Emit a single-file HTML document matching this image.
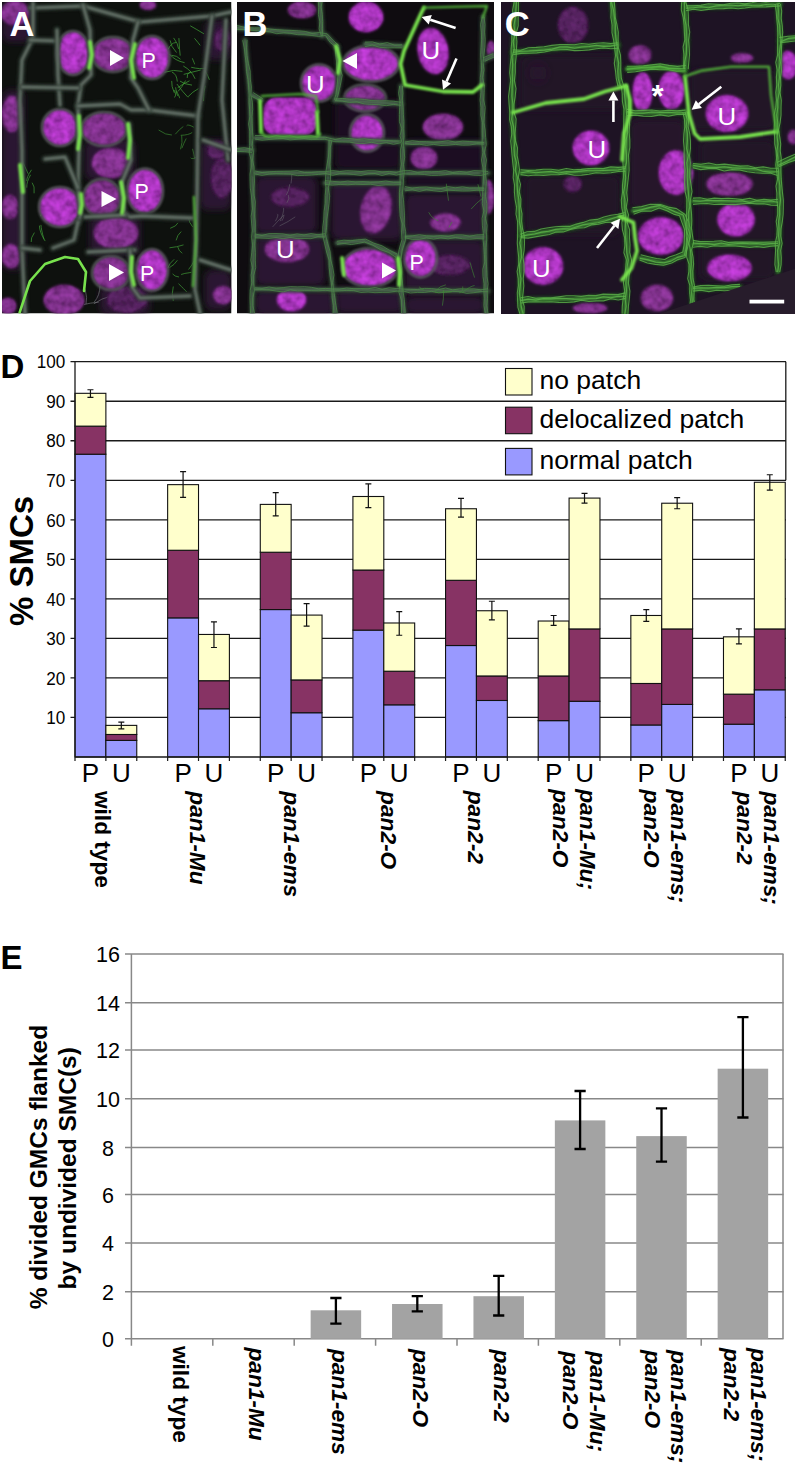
<!DOCTYPE html>
<html><head><meta charset="utf-8"><style>
html,body{margin:0;padding:0;background:#fff;}
body{width:797px;height:1465px;overflow:hidden;}
svg{display:block;font-family:"Liberation Sans", sans-serif;}
</style></head><body>
<svg width="797" height="1465" viewBox="0 0 797 1465">
<rect width="797" height="1465" fill="#fff"/>
<defs>
<filter id="b05" filterUnits="userSpaceOnUse" x="0" y="0" width="797" height="320"><feGaussianBlur stdDeviation="0.5"/></filter>
<filter id="b1" filterUnits="userSpaceOnUse" x="0" y="0" width="797" height="320"><feGaussianBlur stdDeviation="1"/></filter>
<filter id="b15" filterUnits="userSpaceOnUse" x="0" y="0" width="797" height="320"><feGaussianBlur stdDeviation="1.6"/></filter>
<filter id="b3" filterUnits="userSpaceOnUse" x="0" y="0" width="797" height="320"><feGaussianBlur stdDeviation="3"/></filter>
<filter id="b6" filterUnits="userSpaceOnUse" x="0" y="0" width="797" height="320"><feGaussianBlur stdDeviation="6"/></filter>
<filter id="tex" filterUnits="userSpaceOnUse" x="0" y="0" width="797" height="320">
<feTurbulence type="fractalNoise" baseFrequency="0.13" numOctaves="2" seed="7" result="n"/>
<feColorMatrix in="n" type="matrix" values="1 0 0 0 0  1 0 0 0 0  1 0 0 0 0  0 0 0 0 1" result="g"/>
<feGaussianBlur in="SourceGraphic" stdDeviation="1.6" result="bl"/>
<feComposite in="bl" in2="g" operator="arithmetic" k1="1.3" k2="0.35" k3="0" k4="0"/>
</filter>
<clipPath id="cA"><rect x="2" y="2" width="229.5" height="311.5"/></clipPath>
<clipPath id="cB"><rect x="237" y="2" width="257" height="311.5"/></clipPath>
<clipPath id="cC"><rect x="501" y="2" width="294" height="312"/></clipPath>
</defs>
<g clip-path="url(#cA)">
<rect x="2" y="2" width="229.5" height="311.5" fill="#0e110e"/>
<rect x="2" y="2" width="30" height="40" rx="8" fill="#2a1230" opacity="1" filter="url(#b3)"/>
<rect x="2" y="90" width="22" height="180" rx="8" fill="#2a1230" opacity="1" filter="url(#b3)"/>
<rect x="85" y="140" width="50" height="40" rx="8" fill="#2a1230" opacity="1" filter="url(#b3)"/>
<rect x="90" y="215" width="50" height="40" rx="8" fill="#2a1230" opacity="1" filter="url(#b3)"/>
<rect x="100" y="285" width="50" height="30" rx="8" fill="#2a1230" opacity="1" filter="url(#b3)"/>
<rect x="200" y="140" width="31" height="70" rx="8" fill="#2a1230" opacity="1" filter="url(#b3)"/>
<rect x="205" y="270" width="26" height="40" rx="8" fill="#2a1230" opacity="1" filter="url(#b3)"/>
<rect x="205" y="20" width="26" height="40" rx="8" fill="#2a1230" opacity="1" filter="url(#b3)"/>
<g filter="url(#b05)"><path d="M191.0,71.3 Q186.1,73.9 187.2,78.0" stroke="#3f9a36" stroke-width="1.0" fill="none" opacity="0.75"/><path d="M185.6,80.5 Q182.2,86.9 178.1,91.4" stroke="#3f9a36" stroke-width="1.0" fill="none" opacity="0.75"/><path d="M169.9,54.4 Q174.6,60.5 184.6,62.7" stroke="#3f9a36" stroke-width="1.0" fill="none" opacity="0.75"/><path d="M172.0,72.1 Q176.7,73.9 177.3,81.6" stroke="#3f9a36" stroke-width="1.0" fill="none" opacity="0.75"/><path d="M174.3,90.2 Q177.1,96.4 174.1,97.3" stroke="#3f9a36" stroke-width="1.0" fill="none" opacity="0.75"/><path d="M171.6,55.3 Q176.8,55.3 180.5,59.3" stroke="#3f9a36" stroke-width="1.0" fill="none" opacity="0.75"/><path d="M190.3,25.8 Q196.5,29.3 203.9,33.8" stroke="#3f9a36" stroke-width="1.0" fill="none" opacity="0.75"/><path d="M192.3,58.3 Q194.8,64.1 194.6,64.3" stroke="#3f9a36" stroke-width="1.0" fill="none" opacity="0.75"/><path d="M204.9,70.4 Q208.3,76.1 209.4,79.8" stroke="#3f9a36" stroke-width="1.0" fill="none" opacity="0.75"/><path d="M173.6,37.9 Q178.0,43.4 178.6,48.9" stroke="#3f9a36" stroke-width="1.0" fill="none" opacity="0.75"/><path d="M171.7,80.9 Q171.3,86.4 174.3,92.8" stroke="#3f9a36" stroke-width="1.0" fill="none" opacity="0.75"/><path d="M180.0,81.1 Q184.0,84.3 192.0,85.1" stroke="#3f9a36" stroke-width="1.0" fill="none" opacity="0.75"/><path d="M170.1,40.4 Q170.6,46.2 176.5,52.5" stroke="#3f9a36" stroke-width="1.0" fill="none" opacity="0.75"/><path d="M178.9,38.1 Q179.4,49.6 180.2,55.6" stroke="#3f9a36" stroke-width="1.0" fill="none" opacity="0.75"/><path d="M176.3,90.6 Q179.5,96.9 179.7,98.2" stroke="#3f9a36" stroke-width="1.0" fill="none" opacity="0.75"/><path d="M176.0,42.5 Q170.7,42.9 168.4,49.2" stroke="#3f9a36" stroke-width="1.0" fill="none" opacity="0.75"/><path d="M182.4,71.4 Q173.5,69.0 164.5,72.3" stroke="#3f9a36" stroke-width="1.0" fill="none" opacity="0.75"/><path d="M189.5,80.8 Q182.0,84.4 177.7,87.7" stroke="#3f9a36" stroke-width="1.0" fill="none" opacity="0.75"/><path d="M183.3,66.0 Q191.6,70.4 195.1,78.8" stroke="#3f9a36" stroke-width="1.0" fill="none" opacity="0.75"/><path d="M176.9,84.0 Q182.6,91.8 188.0,97.3" stroke="#3f9a36" stroke-width="1.0" fill="none" opacity="0.75"/><path d="M194.5,38.3 Q198.5,43.0 200.2,45.4" stroke="#3f9a36" stroke-width="1.0" fill="none" opacity="0.75"/><path d="M175.6,87.3 Q176.4,94.5 177.8,95.9" stroke="#3f9a36" stroke-width="1.0" fill="none" opacity="0.75"/><path d="M200.7,70.0 Q193.7,71.7 183.7,74.4" stroke="#3f9a36" stroke-width="1.0" fill="none" opacity="0.75"/><path d="M198.3,88.7 Q192.3,91.9 188.1,96.7" stroke="#3f9a36" stroke-width="1.0" fill="none" opacity="0.75"/><path d="M191.2,67.3 Q200.9,69.5 205.7,68.1" stroke="#3f9a36" stroke-width="1.0" fill="none" opacity="0.75"/><path d="M205.2,85.7 Q203.6,91.0 203.5,101.1" stroke="#3f9a36" stroke-width="1.0" fill="none" opacity="0.75"/></g>
<g filter="url(#b05)"><path d="M183.5,244.9 Q176.7,247.1 169.5,247.8" stroke="#3f9a36" stroke-width="1.0" fill="none" opacity="0.7"/><path d="M174.2,259.3 Q169.5,263.1 167.8,268.0" stroke="#3f9a36" stroke-width="1.0" fill="none" opacity="0.7"/><path d="M172.6,273.9 Q174.6,276.6 179.0,277.0" stroke="#3f9a36" stroke-width="1.0" fill="none" opacity="0.7"/><path d="M191.3,272.4 Q183.4,273.4 181.1,274.5" stroke="#3f9a36" stroke-width="1.0" fill="none" opacity="0.7"/><path d="M181.2,231.6 Q177.1,235.0 176.1,240.4" stroke="#3f9a36" stroke-width="1.0" fill="none" opacity="0.7"/><path d="M188.7,218.4 Q188.9,222.2 192.6,226.8" stroke="#3f9a36" stroke-width="1.0" fill="none" opacity="0.7"/><path d="M173.3,286.5 Q171.3,293.5 173.3,300.9" stroke="#3f9a36" stroke-width="1.0" fill="none" opacity="0.7"/><path d="M178.5,283.7 Q184.7,289.7 186.6,291.8" stroke="#3f9a36" stroke-width="1.0" fill="none" opacity="0.7"/><path d="M177.4,260.3 Q174.5,264.9 169.5,267.6" stroke="#3f9a36" stroke-width="1.0" fill="none" opacity="0.7"/><path d="M194.1,260.9 Q192.7,264.1 188.6,269.5" stroke="#3f9a36" stroke-width="1.0" fill="none" opacity="0.7"/><path d="M177.8,247.0 Q178.4,250.4 182.2,253.3" stroke="#3f9a36" stroke-width="1.0" fill="none" opacity="0.7"/><path d="M177.9,222.9 Q176.7,226.2 170.2,228.3" stroke="#3f9a36" stroke-width="1.0" fill="none" opacity="0.7"/></g>
<g filter="url(#b05)"><path d="M34.4,232.6 Q30.5,238.2 31.2,242.0" stroke="#3f9a36" stroke-width="1.0" fill="none" opacity="0.7"/><path d="M43.0,205.5 Q42.6,209.4 40.7,216.2" stroke="#3f9a36" stroke-width="1.0" fill="none" opacity="0.7"/><path d="M32.1,182.7 Q35.0,186.0 34.1,193.3" stroke="#3f9a36" stroke-width="1.0" fill="none" opacity="0.7"/><path d="M31.5,169.8 Q26.4,177.5 26.7,181.1" stroke="#3f9a36" stroke-width="1.0" fill="none" opacity="0.7"/><path d="M40.9,224.9 Q41.3,229.9 44.0,239.4" stroke="#3f9a36" stroke-width="1.0" fill="none" opacity="0.7"/><path d="M39.4,225.6 Q39.5,232.2 45.2,241.1" stroke="#3f9a36" stroke-width="1.0" fill="none" opacity="0.7"/><path d="M22.4,160.4 Q24.0,165.2 28.2,173.8" stroke="#3f9a36" stroke-width="1.0" fill="none" opacity="0.7"/><path d="M30.6,174.8 Q26.3,182.3 26.8,187.6" stroke="#3f9a36" stroke-width="1.0" fill="none" opacity="0.7"/></g>
<g filter="url(#b05)"><path d="M181.7,135.5 Q182.9,142.5 180.5,149.3" stroke="#3f9a36" stroke-width="1.0" fill="none" opacity="0.6"/><path d="M186.2,138.5 Q183.6,143.5 181.9,148.2" stroke="#3f9a36" stroke-width="1.0" fill="none" opacity="0.6"/><path d="M192.2,132.5 Q188.6,135.1 180.7,135.3" stroke="#3f9a36" stroke-width="1.0" fill="none" opacity="0.6"/><path d="M192.5,148.8 Q194.3,155.6 194.9,159.4" stroke="#3f9a36" stroke-width="1.0" fill="none" opacity="0.6"/><path d="M186.6,125.8 Q187.7,123.8 193.8,127.2" stroke="#3f9a36" stroke-width="1.0" fill="none" opacity="0.6"/><path d="M158.6,130.0 Q165.9,135.3 171.9,135.0" stroke="#3f9a36" stroke-width="1.0" fill="none" opacity="0.6"/><path d="M196.9,156.8 Q192.2,159.9 190.7,157.8" stroke="#3f9a36" stroke-width="1.0" fill="none" opacity="0.6"/><path d="M183.3,126.5 Q179.5,129.2 175.3,134.2" stroke="#3f9a36" stroke-width="1.0" fill="none" opacity="0.6"/></g>
<g filter="url(#b05)"><path d="M100.0,285.6 Q100.0,295.4 94.2,302.1" stroke="#7a7a80" stroke-width="1.0" fill="none" opacity="0.6"/><path d="M126.6,292.7 Q132.3,300.6 136.7,306.5" stroke="#7a7a80" stroke-width="1.0" fill="none" opacity="0.6"/><path d="M85.2,289.4 Q87.6,298.3 86.0,304.2" stroke="#7a7a80" stroke-width="1.0" fill="none" opacity="0.6"/><path d="M110.1,296.3 Q101.9,298.2 93.9,303.8" stroke="#7a7a80" stroke-width="1.0" fill="none" opacity="0.6"/><path d="M114.4,299.3 Q115.5,303.9 118.1,307.2" stroke="#7a7a80" stroke-width="1.0" fill="none" opacity="0.6"/><path d="M98.7,302.2 Q89.9,302.9 84.0,304.5" stroke="#7a7a80" stroke-width="1.0" fill="none" opacity="0.6"/></g>
<ellipse cx="15" cy="13" rx="14" ry="12" fill="#82308e" filter="url(#tex)"/>
<ellipse cx="148" cy="5" rx="8" ry="5" fill="#82308e" filter="url(#tex)"/>
<ellipse cx="12" cy="114" rx="10" ry="18" fill="#82308e" filter="url(#tex)"/>
<ellipse cx="10" cy="207" rx="8" ry="12" fill="#82308e" filter="url(#tex)"/>
<ellipse cx="11" cy="256" rx="9" ry="12" fill="#82308e" filter="url(#tex)"/>
<ellipse cx="8" cy="306" rx="8" ry="8" fill="#82308e" filter="url(#tex)"/>
<ellipse cx="222" cy="178" rx="11" ry="20" fill="#55205f" filter="url(#tex)"/>
<ellipse cx="222" cy="40" rx="8" ry="12" fill="#55205f" filter="url(#tex)"/>
<ellipse cx="217" cy="150" rx="10" ry="9" fill="#55205f" filter="url(#tex)"/>
<ellipse cx="127" cy="300" rx="20" ry="13" fill="#55205f" filter="url(#tex)"/>
<ellipse cx="111" cy="163" rx="19" ry="15" fill="#82308e" filter="url(#tex)"/>
<ellipse cx="116" cy="233" rx="22" ry="16" fill="#82308e" filter="url(#tex)"/>
<ellipse cx="104" cy="129" rx="22" ry="16" fill="#82308e" filter="url(#tex)"/><ellipse cx="104" cy="129" rx="23" ry="17" fill="none" stroke="#56645a" stroke-width="2.5" opacity="0.8" filter="url(#b1)"/>
<ellipse cx="113" cy="54.5" rx="20" ry="16.5" fill="#82308e" filter="url(#tex)"/><ellipse cx="113" cy="54.5" rx="21" ry="17.5" fill="none" stroke="#56645a" stroke-width="2.5" opacity="0.8" filter="url(#b1)"/>
<ellipse cx="102" cy="198" rx="18" ry="18" fill="#82308e" filter="url(#tex)"/><ellipse cx="102" cy="198" rx="19" ry="19" fill="none" stroke="#56645a" stroke-width="2.5" opacity="0.8" filter="url(#b1)"/>
<ellipse cx="111" cy="273" rx="18" ry="16" fill="#82308e" filter="url(#tex)"/><ellipse cx="111" cy="273" rx="19" ry="17" fill="none" stroke="#56645a" stroke-width="2.5" opacity="0.8" filter="url(#b1)"/>
<ellipse cx="64" cy="300" rx="20" ry="15" fill="#82308e" filter="url(#tex)"/>
<ellipse cx="223" cy="295" rx="10" ry="9" fill="#82308e" filter="url(#tex)"/>
<ellipse cx="73" cy="53" rx="15.5" ry="21" fill="#ab36bf" filter="url(#tex)"/><ellipse cx="73" cy="53" rx="16.5" ry="22" fill="none" stroke="#56645a" stroke-width="2.5" opacity="0.8" filter="url(#b1)"/>
<ellipse cx="152" cy="57.5" rx="16.5" ry="20.5" fill="#ab36bf" filter="url(#tex)"/><ellipse cx="152" cy="57.5" rx="17.5" ry="21.5" fill="none" stroke="#56645a" stroke-width="2.5" opacity="0.8" filter="url(#b1)"/>
<ellipse cx="60" cy="127.5" rx="17" ry="17.5" fill="#ab36bf" filter="url(#tex)"/><ellipse cx="60" cy="127.5" rx="18" ry="18.5" fill="none" stroke="#56645a" stroke-width="2.5" opacity="0.8" filter="url(#b1)"/>
<ellipse cx="60" cy="207" rx="20" ry="19" fill="#ab36bf" filter="url(#tex)"/><ellipse cx="60" cy="207" rx="21" ry="20" fill="none" stroke="#56645a" stroke-width="2.5" opacity="0.8" filter="url(#b1)"/>
<ellipse cx="145" cy="191" rx="17" ry="21.5" fill="#ab36bf" filter="url(#tex)"/><ellipse cx="145" cy="191" rx="18" ry="22.5" fill="none" stroke="#56645a" stroke-width="2.5" opacity="0.8" filter="url(#b1)"/>
<ellipse cx="152" cy="270" rx="15" ry="20" fill="#ab36bf" filter="url(#tex)"/><ellipse cx="152" cy="270" rx="16" ry="21" fill="none" stroke="#56645a" stroke-width="2.5" opacity="0.8" filter="url(#b1)"/>
<path d="M30,8 L83,6 L140,22 L212,16 L231,12" stroke="#343f38" stroke-width="6.5" fill="none" stroke-linejoin="round" stroke-linecap="round" opacity="0.9" filter="url(#b15)"/><path d="M30,8 L83,6 L140,22 L212,16 L231,12" stroke="#6e7b72" stroke-width="2.4" fill="none" stroke-linejoin="round" stroke-linecap="round" opacity="0.9" filter="url(#b1)"/>
<path d="M33,3 L33,38 L22,60 L20,100 L22,150 L22,248 L25,313" stroke="#343f38" stroke-width="6.5" fill="none" stroke-linejoin="round" stroke-linecap="round" opacity="0.9" filter="url(#b15)"/><path d="M33,3 L33,38 L22,60 L20,100 L22,150 L22,248 L25,313" stroke="#6e7b72" stroke-width="2.4" fill="none" stroke-linejoin="round" stroke-linecap="round" opacity="0.9" filter="url(#b1)"/>
<path d="M30,40 L57,41" stroke="#343f38" stroke-width="6.5" fill="none" stroke-linejoin="round" stroke-linecap="round" opacity="0.9" filter="url(#b15)"/><path d="M30,40 L57,41" stroke="#6e7b72" stroke-width="2.4" fill="none" stroke-linejoin="round" stroke-linecap="round" opacity="0.9" filter="url(#b1)"/>
<path d="M57,30 L58,75 L60,105" stroke="#343f38" stroke-width="6.5" fill="none" stroke-linejoin="round" stroke-linecap="round" opacity="0.9" filter="url(#b15)"/><path d="M57,30 L58,75 L60,105" stroke="#6e7b72" stroke-width="2.4" fill="none" stroke-linejoin="round" stroke-linecap="round" opacity="0.9" filter="url(#b1)"/>
<path d="M83,5 L90,30 L91,75 L81,85 L78,105 L79,150 L78,188 L81,215 L78,222" stroke="#343f38" stroke-width="6.5" fill="none" stroke-linejoin="round" stroke-linecap="round" opacity="0.9" filter="url(#b15)"/><path d="M83,5 L90,30 L91,75 L81,85 L78,105 L79,150 L78,188 L81,215 L78,222" stroke="#6e7b72" stroke-width="2.4" fill="none" stroke-linejoin="round" stroke-linecap="round" opacity="0.9" filter="url(#b1)"/>
<path d="M22,87 L78,88" stroke="#343f38" stroke-width="6.5" fill="none" stroke-linejoin="round" stroke-linecap="round" opacity="0.9" filter="url(#b15)"/><path d="M22,87 L78,88" stroke="#6e7b72" stroke-width="2.4" fill="none" stroke-linejoin="round" stroke-linecap="round" opacity="0.9" filter="url(#b1)"/>
<path d="M78,106 L120,104 L131,110 L149,110 L198,116" stroke="#343f38" stroke-width="6.5" fill="none" stroke-linejoin="round" stroke-linecap="round" opacity="0.9" filter="url(#b15)"/><path d="M78,106 L120,104 L131,110 L149,110 L198,116" stroke="#6e7b72" stroke-width="2.4" fill="none" stroke-linejoin="round" stroke-linecap="round" opacity="0.9" filter="url(#b1)"/>
<path d="M138,22 L133,40 L131,78 L138,88 L149,110" stroke="#343f38" stroke-width="6.5" fill="none" stroke-linejoin="round" stroke-linecap="round" opacity="0.9" filter="url(#b15)"/><path d="M138,22 L133,40 L131,78 L138,88 L149,110" stroke="#6e7b72" stroke-width="2.4" fill="none" stroke-linejoin="round" stroke-linecap="round" opacity="0.9" filter="url(#b1)"/>
<path d="M212,16 L204,78 L198,116 L197,200 L195,290 L200,313" stroke="#343f38" stroke-width="6.5" fill="none" stroke-linejoin="round" stroke-linecap="round" opacity="0.9" filter="url(#b15)"/><path d="M212,16 L204,78 L198,116 L197,200 L195,290 L200,313" stroke="#6e7b72" stroke-width="2.4" fill="none" stroke-linejoin="round" stroke-linecap="round" opacity="0.9" filter="url(#b1)"/>
<path d="M129,124 L131,160 L122,182 L124,213 L130,217 L141,216 L192,218" stroke="#343f38" stroke-width="6.5" fill="none" stroke-linejoin="round" stroke-linecap="round" opacity="0.9" filter="url(#b15)"/><path d="M129,124 L131,160 L122,182 L124,213 L130,217 L141,216 L192,218" stroke="#6e7b72" stroke-width="2.4" fill="none" stroke-linejoin="round" stroke-linecap="round" opacity="0.9" filter="url(#b1)"/>
<path d="M45,159 L65,157 L78,188" stroke="#343f38" stroke-width="6.5" fill="none" stroke-linejoin="round" stroke-linecap="round" opacity="0.9" filter="url(#b15)"/><path d="M45,159 L65,157 L78,188" stroke="#6e7b72" stroke-width="2.4" fill="none" stroke-linejoin="round" stroke-linecap="round" opacity="0.9" filter="url(#b1)"/>
<path d="M53,248 L74,240 L78,222" stroke="#343f38" stroke-width="6.5" fill="none" stroke-linejoin="round" stroke-linecap="round" opacity="0.9" filter="url(#b15)"/><path d="M53,248 L74,240 L78,222" stroke="#6e7b72" stroke-width="2.4" fill="none" stroke-linejoin="round" stroke-linecap="round" opacity="0.9" filter="url(#b1)"/>
<path d="M85,217 L125,215" stroke="#343f38" stroke-width="6.5" fill="none" stroke-linejoin="round" stroke-linecap="round" opacity="0.9" filter="url(#b15)"/><path d="M85,217 L125,215" stroke="#6e7b72" stroke-width="2.4" fill="none" stroke-linejoin="round" stroke-linecap="round" opacity="0.9" filter="url(#b1)"/>
<path d="M88,252 L130,250 L135,250" stroke="#343f38" stroke-width="6.5" fill="none" stroke-linejoin="round" stroke-linecap="round" opacity="0.9" filter="url(#b15)"/><path d="M88,252 L130,250 L135,250" stroke="#6e7b72" stroke-width="2.4" fill="none" stroke-linejoin="round" stroke-linecap="round" opacity="0.9" filter="url(#b1)"/>
<path d="M130,250 L132,287 L140,298 L190,296" stroke="#343f38" stroke-width="6.5" fill="none" stroke-linejoin="round" stroke-linecap="round" opacity="0.9" filter="url(#b15)"/><path d="M130,250 L132,287 L140,298 L190,296" stroke="#6e7b72" stroke-width="2.4" fill="none" stroke-linejoin="round" stroke-linecap="round" opacity="0.9" filter="url(#b1)"/>
<path d="M226,20 L222,100 L228,160" stroke="#343f38" stroke-width="6.5" fill="none" stroke-linejoin="round" stroke-linecap="round" opacity="0.9" filter="url(#b15)"/><path d="M226,20 L222,100 L228,160" stroke="#6e7b72" stroke-width="2.4" fill="none" stroke-linejoin="round" stroke-linecap="round" opacity="0.9" filter="url(#b1)"/>
<path d="M40,250 L22,248" stroke="#343f38" stroke-width="6.5" fill="none" stroke-linejoin="round" stroke-linecap="round" opacity="0.9" filter="url(#b15)"/><path d="M40,250 L22,248" stroke="#6e7b72" stroke-width="2.4" fill="none" stroke-linejoin="round" stroke-linecap="round" opacity="0.9" filter="url(#b1)"/>
<path d="M203,140 L231,150" stroke="#343f38" stroke-width="6.5" fill="none" stroke-linejoin="round" stroke-linecap="round" opacity="0.9" filter="url(#b15)"/><path d="M203,140 L231,150" stroke="#6e7b72" stroke-width="2.4" fill="none" stroke-linejoin="round" stroke-linecap="round" opacity="0.9" filter="url(#b1)"/>
<path d="M200,260 L231,270" stroke="#343f38" stroke-width="6.5" fill="none" stroke-linejoin="round" stroke-linecap="round" opacity="0.9" filter="url(#b15)"/><path d="M200,260 L231,270" stroke="#6e7b72" stroke-width="2.4" fill="none" stroke-linejoin="round" stroke-linecap="round" opacity="0.9" filter="url(#b1)"/>
<path d="M135,44 L131,60 L134,78" stroke="#78e24e" stroke-width="3.8" fill="none" stroke-linejoin="round" stroke-linecap="round" opacity="1" filter="url(#b1)"/>
<path d="M90,42 L92,55 L89,68" stroke="#78e24e" stroke-width="3.8" fill="none" stroke-linejoin="round" stroke-linecap="round" opacity="1" filter="url(#b1)"/>
<path d="M79,116 L80,135 L78,149" stroke="#78e24e" stroke-width="3.8" fill="none" stroke-linejoin="round" stroke-linecap="round" opacity="1" filter="url(#b1)"/>
<path d="M128,124 L130,140 L128,158" stroke="#78e24e" stroke-width="3.8" fill="none" stroke-linejoin="round" stroke-linecap="round" opacity="1" filter="url(#b1)"/>
<path d="M81,194 L82,205 L80,213" stroke="#78e24e" stroke-width="3.8" fill="none" stroke-linejoin="round" stroke-linecap="round" opacity="1" filter="url(#b1)"/>
<path d="M121,182 L124,198 L122,213" stroke="#78e24e" stroke-width="3.8" fill="none" stroke-linejoin="round" stroke-linecap="round" opacity="1" filter="url(#b1)"/>
<path d="M132,257 L131,272 L134,285" stroke="#78e24e" stroke-width="3.8" fill="none" stroke-linejoin="round" stroke-linecap="round" opacity="1" filter="url(#b1)"/>
<path d="M20,165 L23,192" stroke="#78e24e" stroke-width="3.8" fill="none" stroke-linejoin="round" stroke-linecap="round" opacity="1" filter="url(#b1)"/>
<path d="M194,197 L196,240 L193,286" stroke="#52b23a" stroke-width="2.6" fill="none" stroke-linejoin="round" stroke-linecap="round" opacity="0.9" filter="url(#b1)"/>
<path d="M19.6,312.6 L30,281 L45,264 L65,257 L78,259 L86,272 L84,291" stroke="#78e24e" stroke-width="2.6" fill="none" stroke-linejoin="round" stroke-linecap="round" opacity="1" filter="url(#b05)"/>
<polygon points="124,58 110,50.0 110,66.0" fill="#fff"/>
<polygon points="116.5,199 101.5,191.0 101.5,207.0" fill="#fff"/>
<polygon points="124,272.5 109,264.0 109,281.0" fill="#fff"/>
<text x="141.5" y="67.5" font-size="21.5" fill="#fff">P</text>
<text x="134.5" y="198.6" font-size="21.5" fill="#fff">P</text>
<text x="140" y="281" font-size="21.5" fill="#fff">P</text>
<text x="9.4" y="35.9" font-size="34.5" font-weight="bold" fill="#fff">A</text>
</g>
<g clip-path="url(#cB)">
<rect x="237" y="2" width="257" height="311.5" fill="#0f0c10"/>
<rect x="255" y="176" width="62" height="58" rx="8" fill="#2a1230" opacity="1" filter="url(#b3)"/>
<rect x="331" y="180" width="72" height="60" rx="8" fill="#2a1230" opacity="1" filter="url(#b3)"/>
<rect x="405" y="193" width="80" height="46" rx="8" fill="#2a1230" opacity="1" filter="url(#b3)"/>
<rect x="405" y="240" width="80" height="55" rx="8" fill="#2a1230" opacity="1" filter="url(#b3)"/>
<rect x="255" y="236" width="70" height="50" rx="8" fill="#2a1230" opacity="1" filter="url(#b3)"/>
<rect x="335" y="288" width="70" height="25" rx="8" fill="#2a1230" opacity="1" filter="url(#b3)"/>
<rect x="405" y="296" width="80" height="18" rx="8" fill="#2a1230" opacity="1" filter="url(#b3)"/>
<rect x="255" y="290" width="80" height="25" rx="8" fill="#2a1230" opacity="1" filter="url(#b3)"/>
<rect x="405" y="140" width="80" height="50" rx="8" fill="#1e0e22" opacity="1" filter="url(#b3)"/>
<rect x="335" y="100" width="66" height="70" rx="8" fill="#1e0e22" opacity="1" filter="url(#b3)"/>
<ellipse cx="290" cy="197" rx="19" ry="10" fill="#55205f" filter="url(#tex)"/>
<ellipse cx="445.5" cy="222.5" rx="15" ry="9" fill="#82308e" filter="url(#tex)"/>
<ellipse cx="488" cy="197" rx="6" ry="17" fill="#82308e" filter="url(#tex)"/>
<ellipse cx="491" cy="50" rx="4" ry="9" fill="#82308e" filter="url(#tex)"/>
<ellipse cx="302" cy="10" rx="14" ry="8" fill="#82308e" filter="url(#tex)"/>
<ellipse cx="365" cy="98" rx="20" ry="12.5" fill="#82308e" filter="url(#tex)"/><ellipse cx="365" cy="98" rx="21" ry="13.5" fill="none" stroke="#56645a" stroke-width="2.5" opacity="0.8" filter="url(#b1)"/>
<ellipse cx="443" cy="127" rx="20" ry="13" fill="#82308e" filter="url(#tex)"/>
<ellipse cx="424" cy="158" rx="13" ry="11" fill="#82308e" filter="url(#tex)"/>
<ellipse cx="376" cy="209.5" rx="15" ry="24" fill="#82308e" filter="url(#tex)" transform="rotate(12 376 209.5)"/>
<ellipse cx="287" cy="249" rx="22" ry="13" fill="#82308e" filter="url(#tex)"/>
<ellipse cx="450" cy="265" rx="20" ry="10" fill="#55205f" filter="url(#tex)"/>
<ellipse cx="366" cy="17" rx="17" ry="15" fill="#ab36bf" filter="url(#tex)"/>
<ellipse cx="371" cy="63.5" rx="27" ry="17" fill="#ab36bf" filter="url(#tex)"/><ellipse cx="371" cy="63.5" rx="28" ry="18" fill="none" stroke="#56645a" stroke-width="2.5" opacity="0.8" filter="url(#b1)"/>
<ellipse cx="319" cy="83" rx="17" ry="17.5" fill="#ab36bf" filter="url(#tex)"/><ellipse cx="319" cy="83" rx="18" ry="18.5" fill="none" stroke="#56645a" stroke-width="2.5" opacity="0.8" filter="url(#b1)"/>
<ellipse cx="433" cy="51" rx="15" ry="23" fill="#ab36bf" filter="url(#tex)" transform="rotate(-10 433 51)"/>
<ellipse cx="367" cy="133" rx="16" ry="17.5" fill="#ab36bf" filter="url(#tex)"/><ellipse cx="367" cy="133" rx="17" ry="18.5" fill="none" stroke="#56645a" stroke-width="2.5" opacity="0.8" filter="url(#b1)"/>
<ellipse cx="370" cy="267.5" rx="27" ry="18.5" fill="#ab36bf" filter="url(#tex)"/><ellipse cx="370" cy="267.5" rx="28" ry="19.5" fill="none" stroke="#56645a" stroke-width="2.5" opacity="0.8" filter="url(#b1)"/>
<ellipse cx="420.5" cy="258" rx="15.5" ry="18.5" fill="#ab36bf" filter="url(#tex)"/><ellipse cx="420.5" cy="258" rx="16.5" ry="19.5" fill="none" stroke="#56645a" stroke-width="2.5" opacity="0.8" filter="url(#b1)"/>
<ellipse cx="291.5" cy="300" rx="14.5" ry="11" fill="#ab36bf" filter="url(#tex)"/>
<rect x="264" y="98" width="52" height="37" rx="12" fill="#ab36bf" filter="url(#tex)"/>
<path d="M237,28 L263,30 L326,35 L337,47" stroke="#2a3e2e" stroke-width="6.5" fill="none" stroke-linejoin="round" stroke-linecap="round" opacity="0.9" filter="url(#b15)"/><path d="M237,28 L263,30 L326,35 L337,47" stroke="#587a5c" stroke-width="2.4" fill="none" stroke-linejoin="round" stroke-linecap="round" opacity="0.9" filter="url(#b1)"/>
<path d="M245,40 L250,95 L252,160 L254,230 L252,313" stroke="#2a3e2e" stroke-width="6.5" fill="none" stroke-linejoin="round" stroke-linecap="round" opacity="0.9" filter="url(#b15)"/><path d="M245,40 L250,95 L252,160 L254,230 L252,313" stroke="#587a5c" stroke-width="2.4" fill="none" stroke-linejoin="round" stroke-linecap="round" opacity="0.9" filter="url(#b1)"/>
<path d="M252,95 L262,100" stroke="#2a3e2e" stroke-width="6.5" fill="none" stroke-linejoin="round" stroke-linecap="round" opacity="0.9" filter="url(#b15)"/><path d="M252,95 L262,100" stroke="#587a5c" stroke-width="2.4" fill="none" stroke-linejoin="round" stroke-linecap="round" opacity="0.9" filter="url(#b1)"/>
<path d="M320,0 L322,36" stroke="#2a3e2e" stroke-width="6.5" fill="none" stroke-linejoin="round" stroke-linecap="round" opacity="0.9" filter="url(#b15)"/><path d="M320,0 L322,36" stroke="#587a5c" stroke-width="2.4" fill="none" stroke-linejoin="round" stroke-linecap="round" opacity="0.9" filter="url(#b1)"/>
<path d="M337,47 L340,75 L337,95 L335,100" stroke="#2a3e2e" stroke-width="6.5" fill="none" stroke-linejoin="round" stroke-linecap="round" opacity="0.9" filter="url(#b15)"/><path d="M337,47 L340,75 L337,95 L335,100" stroke="#587a5c" stroke-width="2.4" fill="none" stroke-linejoin="round" stroke-linecap="round" opacity="0.9" filter="url(#b1)"/>
<path d="M255,138 L325,138 L335,140 L401,142" stroke="#2a3e2e" stroke-width="6.5" fill="none" stroke-linejoin="round" stroke-linecap="round" opacity="0.9" filter="url(#b15)"/><path d="M255,138 L325,138 L335,140 L401,142" stroke="#587a5c" stroke-width="2.4" fill="none" stroke-linejoin="round" stroke-linecap="round" opacity="0.9" filter="url(#b1)"/>
<path d="M330,140 L328,180 L325,235 L330,260 L335,313" stroke="#2a3e2e" stroke-width="6.5" fill="none" stroke-linejoin="round" stroke-linecap="round" opacity="0.9" filter="url(#b15)"/><path d="M330,140 L328,180 L325,235 L330,260 L335,313" stroke="#587a5c" stroke-width="2.4" fill="none" stroke-linejoin="round" stroke-linecap="round" opacity="0.9" filter="url(#b1)"/>
<path d="M255,173 L488,173" stroke="#2a3e2e" stroke-width="6.5" fill="none" stroke-linejoin="round" stroke-linecap="round" opacity="0.9" filter="url(#b15)"/><path d="M255,173 L488,173" stroke="#587a5c" stroke-width="2.4" fill="none" stroke-linejoin="round" stroke-linecap="round" opacity="0.9" filter="url(#b1)"/>
<path d="M255,236 L325,236" stroke="#2a3e2e" stroke-width="6.5" fill="none" stroke-linejoin="round" stroke-linecap="round" opacity="0.9" filter="url(#b15)"/><path d="M255,236 L325,236" stroke="#587a5c" stroke-width="2.4" fill="none" stroke-linejoin="round" stroke-linecap="round" opacity="0.9" filter="url(#b1)"/>
<path d="M255,289 L488,291" stroke="#2a3e2e" stroke-width="6.5" fill="none" stroke-linejoin="round" stroke-linecap="round" opacity="0.9" filter="url(#b15)"/><path d="M255,289 L488,291" stroke="#587a5c" stroke-width="2.4" fill="none" stroke-linejoin="round" stroke-linecap="round" opacity="0.9" filter="url(#b1)"/>
<path d="M335,100 L401,104" stroke="#2a3e2e" stroke-width="6.5" fill="none" stroke-linejoin="round" stroke-linecap="round" opacity="0.9" filter="url(#b15)"/><path d="M335,100 L401,104" stroke="#587a5c" stroke-width="2.4" fill="none" stroke-linejoin="round" stroke-linecap="round" opacity="0.9" filter="url(#b1)"/>
<path d="M365,44 L402,46" stroke="#2a3e2e" stroke-width="6.5" fill="none" stroke-linejoin="round" stroke-linecap="round" opacity="0.9" filter="url(#b15)"/><path d="M365,44 L402,46" stroke="#587a5c" stroke-width="2.4" fill="none" stroke-linejoin="round" stroke-linecap="round" opacity="0.9" filter="url(#b1)"/>
<path d="M401,86 L403,150 L401,200 L404,240 L399,260 L402,300 L404,313" stroke="#2a3e2e" stroke-width="6.5" fill="none" stroke-linejoin="round" stroke-linecap="round" opacity="0.9" filter="url(#b15)"/><path d="M401,86 L403,150 L401,200 L404,240 L399,260 L402,300 L404,313" stroke="#587a5c" stroke-width="2.4" fill="none" stroke-linejoin="round" stroke-linecap="round" opacity="0.9" filter="url(#b1)"/>
<path d="M482,85 L484,160 L485,240 L486,313" stroke="#2a3e2e" stroke-width="6.5" fill="none" stroke-linejoin="round" stroke-linecap="round" opacity="0.9" filter="url(#b15)"/><path d="M482,85 L484,160 L485,240 L486,313" stroke="#587a5c" stroke-width="2.4" fill="none" stroke-linejoin="round" stroke-linecap="round" opacity="0.9" filter="url(#b1)"/>
<path d="M405,143 L484,143" stroke="#2a3e2e" stroke-width="6.5" fill="none" stroke-linejoin="round" stroke-linecap="round" opacity="0.9" filter="url(#b15)"/><path d="M405,143 L484,143" stroke="#587a5c" stroke-width="2.4" fill="none" stroke-linejoin="round" stroke-linecap="round" opacity="0.9" filter="url(#b1)"/>
<path d="M405,189 L484,189" stroke="#2a3e2e" stroke-width="6.5" fill="none" stroke-linejoin="round" stroke-linecap="round" opacity="0.9" filter="url(#b15)"/><path d="M405,189 L484,189" stroke="#587a5c" stroke-width="2.4" fill="none" stroke-linejoin="round" stroke-linecap="round" opacity="0.9" filter="url(#b1)"/>
<path d="M405,237 L484,237" stroke="#2a3e2e" stroke-width="6.5" fill="none" stroke-linejoin="round" stroke-linecap="round" opacity="0.9" filter="url(#b15)"/><path d="M405,237 L484,237" stroke="#587a5c" stroke-width="2.4" fill="none" stroke-linejoin="round" stroke-linecap="round" opacity="0.9" filter="url(#b1)"/>
<path d="M325,183 L401,183" stroke="#2a3e2e" stroke-width="6.5" fill="none" stroke-linejoin="round" stroke-linecap="round" opacity="0.9" filter="url(#b15)"/><path d="M325,183 L401,183" stroke="#587a5c" stroke-width="2.4" fill="none" stroke-linejoin="round" stroke-linecap="round" opacity="0.9" filter="url(#b1)"/>
<path d="M337,243 L365,241 L397,255" stroke="#2a3e2e" stroke-width="6.5" fill="none" stroke-linejoin="round" stroke-linecap="round" opacity="0.9" filter="url(#b15)"/><path d="M337,243 L365,241 L397,255" stroke="#587a5c" stroke-width="2.4" fill="none" stroke-linejoin="round" stroke-linecap="round" opacity="0.9" filter="url(#b1)"/>
<path d="M483,17 L482,85" stroke="#2a3e2e" stroke-width="6.5" fill="none" stroke-linejoin="round" stroke-linecap="round" opacity="0.9" filter="url(#b15)"/><path d="M483,17 L482,85" stroke="#587a5c" stroke-width="2.4" fill="none" stroke-linejoin="round" stroke-linecap="round" opacity="0.9" filter="url(#b1)"/>
<path d="M237,150 L252,150" stroke="#2a3e2e" stroke-width="6.5" fill="none" stroke-linejoin="round" stroke-linecap="round" opacity="0.9" filter="url(#b15)"/><path d="M237,150 L252,150" stroke="#587a5c" stroke-width="2.4" fill="none" stroke-linejoin="round" stroke-linecap="round" opacity="0.9" filter="url(#b1)"/>
<path d="M484,60 L494,55" stroke="#2a3e2e" stroke-width="6.5" fill="none" stroke-linejoin="round" stroke-linecap="round" opacity="0.9" filter="url(#b15)"/><path d="M484,60 L494,55" stroke="#587a5c" stroke-width="2.4" fill="none" stroke-linejoin="round" stroke-linecap="round" opacity="0.9" filter="url(#b1)"/>
<g filter="url(#b05)"><path d="M237.2,25.5 L245.7,27.6 L254.4,28.0 L263.2,27.7 L270.1,29.1 L277.1,29.7 L284.1,30.2 L291.1,30.4 L298.2,30.8 L305.2,31.4 L312.0,33.4 L319.2,32.5 L327.2,33.9 L332.7,39.9 L338.7,45.4" stroke="#4e8a4a" stroke-width="1.0" fill="none" opacity="0.7" stroke-linejoin="round"/><path d="M236.9,29.4 L245.6,29.6 L254.2,30.5 L262.9,31.3 L269.9,31.8 L276.8,33.7 L283.9,32.8 L290.9,33.4 L297.8,34.7 L304.9,34.7 L311.9,35.5 L318.8,36.4 L325.5,35.4 L330.0,42.3 L336.5,47.5" stroke="#4e8a4a" stroke-width="1.0" fill="none" opacity="0.7" stroke-linejoin="round"/></g>
<g filter="url(#b05)"><path d="M247.1,39.8 L246.6,47.8 L246.9,55.7 L248.4,63.5 L250.2,71.2 L250.3,79.1 L251.4,87.0 L250.8,95.0 L252.4,102.2 L252.7,109.4 L252.0,116.6 L252.2,123.8 L252.5,131.1 L253.0,138.3 L252.1,145.5 L253.5,152.7 L252.6,160.0 L254.0,166.9 L254.1,174.0 L254.5,180.9 L253.9,188.0 L254.0,195.0 L255.4,201.9 L254.9,209.0 L254.7,216.0 L255.4,223.0 L255.2,230.0 L255.2,237.6 L254.8,245.1 L255.4,252.7 L255.3,260.2 L255.7,267.8 L253.7,275.3 L253.7,282.8 L254.4,290.4 L252.9,297.9 L252.9,305.5 L254.4,313.1" stroke="#4e8a4a" stroke-width="1.0" fill="none" opacity="0.7" stroke-linejoin="round"/><path d="M242.7,40.2 L244.3,48.0 L245.2,55.8 L246.1,63.7 L246.5,71.6 L248.0,79.3 L248.7,87.2 L249.2,95.0 L249.0,102.3 L249.6,109.5 L249.9,116.7 L248.6,124.0 L249.8,131.2 L249.8,138.4 L249.7,145.6 L249.2,152.9 L251.2,160.0 L251.2,167.0 L250.0,174.1 L250.1,181.1 L250.3,188.1 L251.3,195.0 L251.9,202.0 L252.5,209.0 L251.1,216.1 L251.6,223.1 L252.3,230.0 L251.6,237.5 L252.6,245.1 L251.8,252.6 L250.8,260.1 L252.4,267.7 L251.1,275.2 L251.8,282.8 L250.2,290.3 L250.0,297.9 L250.3,305.4 L250.5,313.0" stroke="#4e8a4a" stroke-width="1.0" fill="none" opacity="0.7" stroke-linejoin="round"/></g>
<g filter="url(#b05)"><path d="M253.2,92.6 L262.7,98.6" stroke="#4e8a4a" stroke-width="1.0" fill="none" opacity="0.7" stroke-linejoin="round"/><path d="M251.4,96.2 L261.4,101.2" stroke="#4e8a4a" stroke-width="1.0" fill="none" opacity="0.7" stroke-linejoin="round"/></g>
<g filter="url(#b05)"><path d="M322.5,-0.1 L321.1,7.2 L322.3,14.3 L322.7,21.5 L322.4,28.8 L322.7,36.0" stroke="#4e8a4a" stroke-width="1.0" fill="none" opacity="0.7" stroke-linejoin="round"/><path d="M318.3,0.1 L318.7,7.3 L318.4,14.5 L319.9,21.7 L319.1,28.9 L321.4,36.0" stroke="#4e8a4a" stroke-width="1.0" fill="none" opacity="0.7" stroke-linejoin="round"/></g>
<g filter="url(#b05)"><path d="M337.9,46.9 L339.3,53.8 L339.8,60.9 L339.8,67.9 L342.2,75.3 L340.3,85.3 L337.9,95.3 L336.0,100.4" stroke="#4e8a4a" stroke-width="1.0" fill="none" opacity="0.7" stroke-linejoin="round"/><path d="M335.4,47.2 L335.6,54.2 L336.5,61.2 L336.9,68.3 L338.1,74.7 L337.2,84.8 L335.9,94.6 L334.4,99.7" stroke="#4e8a4a" stroke-width="1.0" fill="none" opacity="0.7" stroke-linejoin="round"/></g>
<g filter="url(#b05)"><path d="M255.0,135.6 L262.0,135.4 L269.0,137.4 L276.0,135.6 L283.0,136.6 L290.0,135.6 L297.0,137.4 L304.0,136.5 L311.0,135.7 L318.0,137.1 L325.2,137.2 L335.0,139.5 L342.4,138.0 L349.7,138.6 L357.0,139.4 L364.4,138.8 L371.7,139.7 L379.0,140.2 L386.4,140.5 L393.7,140.9 L401.0,141.0" stroke="#4e8a4a" stroke-width="1.0" fill="none" opacity="0.7" stroke-linejoin="round"/><path d="M255.0,139.1 L262.0,140.2 L269.0,139.5 L276.0,138.9 L283.0,138.5 L290.0,139.9 L297.0,139.3 L304.0,138.7 L311.0,139.6 L318.0,139.4 L324.8,139.2 L334.9,141.7 L342.3,141.9 L349.6,142.1 L356.9,143.3 L364.3,143.4 L371.6,142.3 L378.9,143.8 L386.3,142.7 L393.6,144.3 L401.0,142.6" stroke="#4e8a4a" stroke-width="1.0" fill="none" opacity="0.7" stroke-linejoin="round"/></g>
<g filter="url(#b05)"><path d="M332.0,140.1 L330.2,148.0 L330.4,156.1 L329.9,164.1 L330.6,172.1 L330.4,180.1 L328.2,187.9 L329.7,195.9 L329.0,203.7 L328.0,211.5 L326.8,219.3 L326.6,227.2 L325.5,234.9 L327.6,243.1 L330.0,251.3 L330.7,259.9 L332.7,267.4 L334.0,274.9 L332.7,282.7 L333.6,290.2 L334.8,297.7 L335.9,305.3 L337.2,312.8" stroke="#4e8a4a" stroke-width="1.0" fill="none" opacity="0.7" stroke-linejoin="round"/><path d="M329.0,140.0 L329.0,148.0 L328.5,156.0 L327.2,163.9 L325.9,171.9 L325.5,179.9 L325.9,187.8 L325.2,195.6 L325.2,203.5 L324.1,211.3 L323.8,219.2 L322.8,227.0 L322.7,235.5 L324.7,243.7 L326.6,252.0 L329.1,260.1 L329.2,267.7 L330.0,275.3 L331.3,282.8 L331.9,290.4 L332.2,298.0 L333.4,305.5 L333.1,313.2" stroke="#4e8a4a" stroke-width="1.0" fill="none" opacity="0.7" stroke-linejoin="round"/></g>
<g filter="url(#b05)"><path d="M255.0,171.0 L262.1,172.5 L269.1,171.8 L276.2,171.4 L283.2,171.3 L290.3,171.2 L297.4,170.7 L304.4,172.4 L311.5,172.3 L318.5,171.7 L325.6,171.7 L332.7,170.6 L339.7,171.5 L346.8,170.7 L353.8,171.0 L360.9,171.6 L368.0,170.7 L375.0,170.8 L382.1,171.9 L389.2,171.4 L396.2,172.3 L403.3,170.7 L410.3,170.5 L417.4,172.4 L424.5,171.6 L431.5,171.8 L438.6,171.5 L445.6,170.6 L452.7,172.5 L459.8,171.4 L466.8,172.3 L473.9,170.6 L480.9,170.9 L488.0,171.5" stroke="#4e8a4a" stroke-width="1.0" fill="none" opacity="0.7" stroke-linejoin="round"/><path d="M255.0,174.0 L262.1,175.4 L269.1,174.1 L276.2,173.7 L283.2,173.9 L290.3,174.1 L297.4,175.6 L304.4,175.4 L311.5,175.0 L318.5,174.4 L325.6,173.6 L332.7,175.3 L339.7,173.8 L346.8,173.9 L353.8,174.5 L360.9,175.4 L368.0,173.9 L375.0,173.6 L382.1,175.5 L389.2,173.5 L396.2,175.1 L403.3,173.8 L410.3,174.2 L417.4,174.0 L424.5,174.5 L431.5,175.5 L438.6,175.3 L445.6,174.7 L452.7,173.7 L459.8,173.9 L466.8,174.1 L473.9,175.2 L480.9,175.5 L488.0,173.6" stroke="#4e8a4a" stroke-width="1.0" fill="none" opacity="0.7" stroke-linejoin="round"/></g>
<g filter="url(#b05)"><path d="M255.0,234.0 L262.0,235.4 L269.0,233.6 L276.0,233.5 L283.0,233.9 L290.0,235.3 L297.0,233.9 L304.0,234.9 L311.0,233.6 L318.0,234.7 L325.0,233.7" stroke="#4e8a4a" stroke-width="1.0" fill="none" opacity="0.7" stroke-linejoin="round"/><path d="M255.0,237.8 L262.0,238.1 L269.0,238.4 L276.0,237.5 L283.0,238.7 L290.0,237.4 L297.0,238.6 L304.0,238.5 L311.0,238.7 L318.0,236.7 L325.0,237.1" stroke="#4e8a4a" stroke-width="1.0" fill="none" opacity="0.7" stroke-linejoin="round"/></g>
<g filter="url(#b05)"><path d="M255.0,287.8 L262.1,288.3 L269.1,287.0 L276.2,288.2 L283.3,287.6 L290.3,286.6 L297.4,286.9 L304.4,286.7 L311.5,287.3 L318.6,288.9 L325.6,288.4 L332.7,288.9 L339.7,289.0 L346.8,288.0 L353.9,288.7 L360.9,288.6 L368.0,288.8 L375.1,287.5 L382.1,289.3 L389.2,287.8 L396.2,288.5 L403.3,289.1 L410.3,289.3 L417.4,289.5 L424.5,288.4 L431.5,288.5 L438.6,289.5 L445.7,288.0 L452.7,289.9 L459.8,288.8 L466.8,289.0 L473.9,288.9 L480.9,289.8 L488.0,288.7" stroke="#4e8a4a" stroke-width="1.0" fill="none" opacity="0.7" stroke-linejoin="round"/><path d="M255.0,289.8 L262.1,289.7 L269.1,289.9 L276.2,291.1 L283.2,291.9 L290.3,289.8 L297.4,290.9 L304.4,290.7 L311.5,290.7 L318.5,290.8 L325.6,290.3 L332.7,291.1 L339.7,290.8 L346.8,290.4 L353.8,290.6 L360.9,292.5 L368.0,292.0 L375.0,292.7 L382.1,292.4 L389.1,292.3 L396.2,291.2 L403.3,291.0 L410.3,293.0 L417.4,292.4 L424.4,292.5 L431.5,291.3 L438.6,292.8 L445.6,292.3 L452.7,291.4 L459.7,291.7 L466.8,293.4 L473.9,292.7 L480.9,291.6 L488.0,291.7" stroke="#4e8a4a" stroke-width="1.0" fill="none" opacity="0.7" stroke-linejoin="round"/></g>
<g filter="url(#b05)"><path d="M335.1,99.0 L342.4,98.5 L349.8,99.2 L357.1,98.9 L364.5,99.5 L371.8,100.6 L379.1,100.9 L386.5,100.8 L393.8,101.2 L401.1,102.3" stroke="#4e8a4a" stroke-width="1.0" fill="none" opacity="0.7" stroke-linejoin="round"/><path d="M335.0,100.7 L342.3,101.1 L349.6,102.4 L357.0,101.9 L364.2,103.9 L371.5,104.4 L378.9,104.7 L386.2,105.7 L393.6,104.4 L400.9,105.4" stroke="#4e8a4a" stroke-width="1.0" fill="none" opacity="0.7" stroke-linejoin="round"/></g>
<g filter="url(#b05)"><path d="M365.1,42.2 L372.5,41.9 L379.8,44.0 L387.3,42.6 L394.6,45.1 L402.1,44.8" stroke="#4e8a4a" stroke-width="1.0" fill="none" opacity="0.7" stroke-linejoin="round"/><path d="M364.9,46.7 L372.4,45.0 L379.7,47.3 L387.1,47.8 L394.5,47.8 L401.9,47.8" stroke="#4e8a4a" stroke-width="1.0" fill="none" opacity="0.7" stroke-linejoin="round"/></g>
<g filter="url(#b05)"><path d="M402.3,86.0 L402.9,93.1 L402.3,100.2 L403.1,107.3 L403.4,114.4 L403.9,121.5 L403.7,128.6 L404.0,135.7 L403.4,142.9 L404.0,150.0 L404.7,157.2 L403.5,164.3 L404.3,171.5 L403.5,178.6 L403.1,185.8 L402.4,192.9 L403.5,199.8 L404.0,207.8 L404.5,215.8 L404.1,223.9 L405.7,231.8 L405.4,240.4 L402.2,250.2 L400.8,259.9 L401.8,267.8 L401.6,275.9 L402.6,283.9 L403.1,291.9 L404.3,299.6 L405.2,312.8" stroke="#4e8a4a" stroke-width="1.0" fill="none" opacity="0.7" stroke-linejoin="round"/><path d="M399.7,86.0 L398.6,93.2 L399.9,100.3 L399.7,107.4 L399.4,114.5 L399.4,121.6 L401.8,128.7 L400.0,135.9 L402.1,142.9 L400.4,149.9 L400.5,157.1 L401.4,164.2 L400.1,171.3 L400.1,178.5 L400.1,185.7 L399.4,192.8 L399.5,200.1 L399.7,208.1 L400.2,216.2 L402.3,224.0 L401.5,232.1 L402.0,239.5 L399.2,249.4 L397.3,260.1 L397.9,268.1 L399.4,276.1 L399.9,284.1 L398.9,292.2 L401.4,300.1 L401.5,313.4" stroke="#4e8a4a" stroke-width="1.0" fill="none" opacity="0.7" stroke-linejoin="round"/></g>
<g filter="url(#b05)"><path d="M484.4,84.9 L484.1,92.5 L483.7,100.0 L485.2,107.4 L484.5,115.0 L483.9,122.5 L485.1,130.0 L485.7,137.4 L486.2,144.9 L484.4,152.5 L486.5,160.0 L485.3,167.3 L485.5,174.5 L486.4,181.8 L485.8,189.1 L485.6,196.3 L486.8,203.6 L486.8,210.9 L485.4,218.2 L487.1,225.4 L486.5,232.7 L486.7,240.0 L486.1,247.3 L486.0,254.6 L486.3,261.9 L486.7,269.2 L487.0,276.5 L488.1,283.8 L487.1,291.1 L487.5,298.4 L486.9,305.7 L487.9,313.0" stroke="#4e8a4a" stroke-width="1.0" fill="none" opacity="0.7" stroke-linejoin="round"/><path d="M481.2,85.0 L480.9,92.5 L480.1,100.1 L481.0,107.5 L480.8,115.1 L482.4,122.5 L482.2,130.0 L482.3,137.5 L482.0,145.0 L483.0,152.5 L481.4,160.0 L482.9,167.3 L483.7,174.6 L483.2,181.8 L482.8,189.1 L482.6,196.4 L482.3,203.7 L483.9,210.9 L482.1,218.2 L482.4,225.5 L483.3,232.7 L483.1,240.0 L483.9,247.3 L484.4,254.6 L484.8,261.9 L482.8,269.2 L483.0,276.5 L484.1,283.8 L483.9,291.1 L484.3,298.4 L483.9,305.7 L485.3,313.0" stroke="#4e8a4a" stroke-width="1.0" fill="none" opacity="0.7" stroke-linejoin="round"/></g>
<g filter="url(#b05)"><path d="M405.0,142.0 L412.2,140.7 L419.4,141.6 L426.5,141.7 L433.7,142.2 L440.9,141.7 L448.1,140.7 L455.3,142.1 L462.5,141.1 L469.6,141.5 L476.8,142.1 L484.0,142.5" stroke="#4e8a4a" stroke-width="1.0" fill="none" opacity="0.7" stroke-linejoin="round"/><path d="M405.0,143.7 L412.2,144.5 L419.4,144.2 L426.5,145.4 L433.7,144.4 L440.9,145.5 L448.1,145.2 L455.3,144.4 L462.5,145.2 L469.6,145.0 L476.8,143.8 L484.0,144.2" stroke="#4e8a4a" stroke-width="1.0" fill="none" opacity="0.7" stroke-linejoin="round"/></g>
<g filter="url(#b05)"><path d="M405.0,186.6 L412.2,188.1 L419.4,187.2 L426.5,187.0 L433.7,187.9 L440.9,188.5 L448.1,186.6 L455.3,187.8 L462.5,186.8 L469.6,188.0 L476.8,187.9 L484.0,188.0" stroke="#4e8a4a" stroke-width="1.0" fill="none" opacity="0.7" stroke-linejoin="round"/><path d="M405.0,190.8 L412.2,189.8 L419.4,191.4 L426.5,189.7 L433.7,190.8 L440.9,191.6 L448.1,190.1 L455.3,190.6 L462.5,191.0 L469.6,190.9 L476.8,190.2 L484.0,190.4" stroke="#4e8a4a" stroke-width="1.0" fill="none" opacity="0.7" stroke-linejoin="round"/></g>
<g filter="url(#b05)"><path d="M405.0,236.3 L412.2,235.9 L419.4,234.7 L426.5,235.8 L433.7,236.2 L440.9,235.6 L448.1,236.3 L455.3,234.9 L462.5,234.9 L469.6,236.2 L476.8,234.9 L484.0,234.6" stroke="#4e8a4a" stroke-width="1.0" fill="none" opacity="0.7" stroke-linejoin="round"/><path d="M405.0,237.8 L412.2,239.4 L419.4,239.3 L426.5,237.9 L433.7,239.1 L440.9,237.9 L448.1,238.9 L455.3,237.5 L462.5,238.8 L469.6,239.2 L476.8,238.6 L484.0,238.9" stroke="#4e8a4a" stroke-width="1.0" fill="none" opacity="0.7" stroke-linejoin="round"/></g>
<g filter="url(#b05)"><path d="M325.0,180.6 L332.6,181.3 L340.2,182.0 L347.8,181.1 L355.4,181.9 L363.0,181.6 L370.6,182.1 L378.2,181.9 L385.8,181.0 L393.4,182.1 L401.0,182.1" stroke="#4e8a4a" stroke-width="1.0" fill="none" opacity="0.7" stroke-linejoin="round"/><path d="M325.0,184.4 L332.6,185.1 L340.2,184.4 L347.8,184.8 L355.4,184.2 L363.0,184.5 L370.6,184.2 L378.2,185.5 L385.8,184.8 L393.4,184.9 L401.0,184.7" stroke="#4e8a4a" stroke-width="1.0" fill="none" opacity="0.7" stroke-linejoin="round"/></g>
<g filter="url(#b05)"><path d="M336.9,241.3 L343.8,240.2 L350.9,240.7 L357.9,239.8 L365.8,239.2 L373.6,243.1 L382.0,245.8 L389.5,250.3 L397.4,254.1" stroke="#4e8a4a" stroke-width="1.0" fill="none" opacity="0.7" stroke-linejoin="round"/><path d="M337.1,244.3 L344.1,243.4 L351.2,244.6 L358.1,243.4 L364.5,242.1 L372.7,245.1 L380.3,249.6 L388.6,252.4 L396.0,257.3" stroke="#4e8a4a" stroke-width="1.0" fill="none" opacity="0.7" stroke-linejoin="round"/></g>
<g filter="url(#b05)"><path d="M484.1,17.0 L485.0,24.6 L484.6,32.1 L485.2,39.7 L484.8,47.3 L483.9,54.8 L483.1,62.3 L484.0,69.9 L482.7,77.5 L484.1,85.0" stroke="#4e8a4a" stroke-width="1.0" fill="none" opacity="0.7" stroke-linejoin="round"/><path d="M482.3,17.0 L480.5,24.5 L481.4,32.1 L481.6,39.7 L481.1,47.2 L480.6,54.8 L481.3,62.3 L481.5,69.9 L480.3,77.4 L480.1,85.0" stroke="#4e8a4a" stroke-width="1.0" fill="none" opacity="0.7" stroke-linejoin="round"/></g>
<g filter="url(#b05)"><path d="M237.0,148.5 L244.5,147.7 L252.0,149.2" stroke="#4e8a4a" stroke-width="1.0" fill="none" opacity="0.7" stroke-linejoin="round"/><path d="M237.0,151.4 L244.5,151.7 L252.0,152.4" stroke="#4e8a4a" stroke-width="1.0" fill="none" opacity="0.7" stroke-linejoin="round"/></g>
<g filter="url(#b05)"><path d="M482.9,57.8 L493.3,53.6" stroke="#4e8a4a" stroke-width="1.0" fill="none" opacity="0.7" stroke-linejoin="round"/><path d="M484.6,61.3 L494.9,56.7" stroke="#4e8a4a" stroke-width="1.0" fill="none" opacity="0.7" stroke-linejoin="round"/></g>
<g filter="url(#b05)"><path d="M428.7,212.3 Q432.3,219.1 438.3,220.6" stroke="#3f8a36" stroke-width="1.0" fill="none" opacity="0.6"/><path d="M470.0,262.4 Q472.7,271.7 474.6,277.6" stroke="#3f8a36" stroke-width="1.0" fill="none" opacity="0.6"/><path d="M483.5,197.6 Q476.7,202.4 471.1,209.1" stroke="#3f8a36" stroke-width="1.0" fill="none" opacity="0.6"/><path d="M419.5,286.7 Q419.4,288.6 424.3,290.4" stroke="#3f8a36" stroke-width="1.0" fill="none" opacity="0.6"/><path d="M462.7,286.5 Q463.5,291.9 459.2,292.8" stroke="#3f8a36" stroke-width="1.0" fill="none" opacity="0.6"/><path d="M474.6,285.5 Q470.0,286.2 462.3,292.5" stroke="#3f8a36" stroke-width="1.0" fill="none" opacity="0.6"/><path d="M477.9,184.2 Q479.5,189.5 480.9,196.7" stroke="#3f8a36" stroke-width="1.0" fill="none" opacity="0.6"/><path d="M452.0,222.0 Q449.6,225.7 448.9,227.5" stroke="#3f8a36" stroke-width="1.0" fill="none" opacity="0.6"/><path d="M446.3,183.7 Q447.5,193.6 448.5,200.7" stroke="#3f8a36" stroke-width="1.0" fill="none" opacity="0.6"/><path d="M443.6,290.0 Q443.7,299.7 442.4,305.7" stroke="#3f8a36" stroke-width="1.0" fill="none" opacity="0.6"/><path d="M451.9,291.8 Q446.0,291.3 435.2,292.4" stroke="#3f8a36" stroke-width="1.0" fill="none" opacity="0.6"/><path d="M445.9,284.8 Q440.7,285.2 434.7,291.6" stroke="#3f8a36" stroke-width="1.0" fill="none" opacity="0.6"/></g>
<g filter="url(#b05)"><path d="M291.7,174.8 Q292.0,177.1 291.0,183.5" stroke="#6a6a70" stroke-width="1.0" fill="none" opacity="0.5"/><path d="M277.2,213.9 Q279.2,214.7 275.3,221.3" stroke="#6a6a70" stroke-width="1.0" fill="none" opacity="0.5"/><path d="M283.6,207.9 Q284.2,212.1 280.1,221.2" stroke="#6a6a70" stroke-width="1.0" fill="none" opacity="0.5"/><path d="M289.8,184.1 Q288.8,191.4 286.3,195.1" stroke="#6a6a70" stroke-width="1.0" fill="none" opacity="0.5"/><path d="M288.3,194.9 Q290.1,198.2 286.9,202.8" stroke="#6a6a70" stroke-width="1.0" fill="none" opacity="0.5"/><path d="M295.2,216.9 Q288.7,221.6 279.6,225.9" stroke="#6a6a70" stroke-width="1.0" fill="none" opacity="0.5"/><path d="M284.1,215.2 Q283.3,219.0 281.8,220.9" stroke="#6a6a70" stroke-width="1.0" fill="none" opacity="0.5"/><path d="M284.0,214.8 Q277.1,221.8 272.6,226.9" stroke="#6a6a70" stroke-width="1.0" fill="none" opacity="0.5"/></g>
<path d="M424,7.6 L421,13.5 L404,51 L400.6,64 L405,85 L443,91.5 L473,92 L482,85" stroke="#78e24e" stroke-width="3.8" fill="none" stroke-linejoin="round" stroke-linecap="round" opacity="1" filter="url(#b1)"/>
<path d="M336,46 L340,60 L338,73" stroke="#78e24e" stroke-width="3.8" fill="none" stroke-linejoin="round" stroke-linecap="round" opacity="1" filter="url(#b1)"/>
<path d="M260,101 L261,132" stroke="#78e24e" stroke-width="3.8" fill="none" stroke-linejoin="round" stroke-linecap="round" opacity="1" filter="url(#b1)"/>
<path d="M317,112 L318,134" stroke="#78e24e" stroke-width="3.8" fill="none" stroke-linejoin="round" stroke-linecap="round" opacity="1" filter="url(#b1)"/>
<path d="M342,258 L344,275" stroke="#78e24e" stroke-width="3.8" fill="none" stroke-linejoin="round" stroke-linecap="round" opacity="1" filter="url(#b1)"/>
<path d="M398,258 L400,272 L399,285" stroke="#78e24e" stroke-width="3.8" fill="none" stroke-linejoin="round" stroke-linecap="round" opacity="1" filter="url(#b1)"/>
<path d="M424,7.6 L487,6 L483,17" stroke="#52b23a" stroke-width="2.4" fill="none" stroke-linejoin="round" stroke-linecap="round" opacity="0.9" filter="url(#b1)"/>
<path d="M262,96 L300,94 L316,96 L318,112" stroke="#52b23a" stroke-width="2.6" fill="none" stroke-linejoin="round" stroke-linecap="round" opacity="0.85" filter="url(#b1)"/>
<path d="M261,132 L265,136 L317,137 L320,134" stroke="#52b23a" stroke-width="2.6" fill="none" stroke-linejoin="round" stroke-linecap="round" opacity="0.85" filter="url(#b1)"/>
<polygon points="342.5,61 357,53.0 357,69.0" fill="#fff"/>
<polygon points="396,270.6 382,262.6 382,278.6" fill="#fff"/>
<line x1="455.6" y1="28" x2="430.3" y2="19.8" stroke="#fff" stroke-width="2.6"/><polygon points="421.7,17 431.8,15.0 428.7,24.5" fill="#fff"/>
<line x1="456.5" y1="58.4" x2="446.6" y2="81.5" stroke="#fff" stroke-width="2.6"/><polygon points="443,89.8 442.0,79.6 451.1,83.5" fill="#fff"/>
<text transform="translate(306.0,93) scale(1.1,1)" font-size="23.5" fill="#fff">U</text>
<text transform="translate(421.5,59) scale(1.1,1)" font-size="23.5" fill="#fff">U</text>
<text transform="translate(276.0,257.5) scale(1.1,1)" font-size="23.5" fill="#fff">U</text>
<text x="409.5" y="270" font-size="21.5" fill="#fff">P</text>
<text x="242.4" y="36.3" font-size="34.5" font-weight="bold" fill="#fff">B</text>
</g>
<g clip-path="url(#cC)">
<rect x="501" y="2" width="294" height="312" fill="#1e1324"/>
<rect x="520" y="55" width="100" height="55" rx="8" fill="#241428" opacity="1" filter="url(#b3)"/>
<rect x="690" y="70" width="85" height="60" rx="8" fill="#241428" opacity="1" filter="url(#b3)"/>
<rect x="525" y="175" width="95" height="60" rx="8" fill="#221326" opacity="1" filter="url(#b3)"/>
<rect x="630" y="120" width="55" height="90" rx="8" fill="#261529" opacity="1" filter="url(#b3)"/>
<rect x="700" y="140" width="75" height="140" rx="8" fill="#241428" opacity="1" filter="url(#b3)"/>
<ellipse cx="572.5" cy="184" rx="9" ry="8" fill="#55205f" filter="url(#tex)"/>
<ellipse cx="538" cy="73" rx="6" ry="7" fill="#2e1236" filter="url(#b6)"/>
<ellipse cx="590" cy="308" rx="17" ry="5" fill="#82308e" filter="url(#tex)"/>
<ellipse cx="657" cy="298" rx="16" ry="13" fill="#82308e" filter="url(#tex)"/>
<ellipse cx="573" cy="25" rx="15" ry="18" fill="#55205f" filter="url(#tex)"/>
<ellipse cx="742" cy="58" rx="11" ry="4.5" fill="#82308e" filter="url(#tex)"/>
<ellipse cx="640" cy="55" rx="11" ry="9.5" fill="#82308e" filter="url(#tex)"/>
<ellipse cx="793" cy="137" rx="5" ry="7" fill="#82308e" filter="url(#tex)"/>
<ellipse cx="729.5" cy="184" rx="23" ry="11.5" fill="#82308e" filter="url(#tex)"/>
<ellipse cx="642.5" cy="92" rx="9.5" ry="19.5" fill="#ab36bf" filter="url(#tex)"/>
<ellipse cx="671.5" cy="90" rx="12.5" ry="19" fill="#ab36bf" filter="url(#tex)"/>
<ellipse cx="727" cy="113.5" rx="21" ry="18" fill="#ab36bf" filter="url(#tex)"/>
<ellipse cx="788" cy="65" rx="9" ry="14" fill="#ab36bf" filter="url(#tex)"/>
<ellipse cx="591" cy="148" rx="18" ry="17" fill="#ab36bf" filter="url(#tex)"/>
<ellipse cx="676" cy="172.5" rx="17" ry="22" fill="#ab36bf" filter="url(#tex)"/>
<ellipse cx="736" cy="219.5" rx="18.5" ry="16.5" fill="#ab36bf" filter="url(#tex)"/>
<ellipse cx="661" cy="236" rx="22.5" ry="18.5" fill="#ab36bf" filter="url(#tex)"/>
<ellipse cx="543" cy="266" rx="20" ry="18.5" fill="#ab36bf" filter="url(#tex)"/>
<ellipse cx="729.5" cy="268" rx="22" ry="13" fill="#ab36bf" filter="url(#tex)"/>
<path d="M516,2 L513,57 L512,112 L516,170 L521,236 L520,300 L522,314" stroke="#1f4a1e" stroke-width="6.5" fill="none" stroke-linejoin="round" stroke-linecap="round" opacity="0.9" filter="url(#b15)"/><path d="M516,2 L513,57 L512,112 L516,170 L521,236 L520,300 L522,314" stroke="#4c9a3e" stroke-width="2.4" fill="none" stroke-linejoin="round" stroke-linecap="round" opacity="0.9" filter="url(#b1)"/>
<path d="M513,52.5 L560,48 L618,45" stroke="#1f4a1e" stroke-width="6.5" fill="none" stroke-linejoin="round" stroke-linecap="round" opacity="0.9" filter="url(#b15)"/><path d="M513,52.5 L560,48 L618,45" stroke="#4c9a3e" stroke-width="2.4" fill="none" stroke-linejoin="round" stroke-linecap="round" opacity="0.9" filter="url(#b1)"/>
<path d="M612,2 L616,40 L620,86" stroke="#1f4a1e" stroke-width="6.5" fill="none" stroke-linejoin="round" stroke-linecap="round" opacity="0.9" filter="url(#b15)"/><path d="M612,2 L616,40 L620,86" stroke="#4c9a3e" stroke-width="2.4" fill="none" stroke-linejoin="round" stroke-linecap="round" opacity="0.9" filter="url(#b1)"/>
<path d="M520.5,172.5 L574,172 L625.5,169" stroke="#1f4a1e" stroke-width="6.5" fill="none" stroke-linejoin="round" stroke-linecap="round" opacity="0.9" filter="url(#b15)"/><path d="M520.5,172.5 L574,172 L625.5,169" stroke="#4c9a3e" stroke-width="2.4" fill="none" stroke-linejoin="round" stroke-linecap="round" opacity="0.9" filter="url(#b1)"/>
<path d="M520.5,236 L570,228 L625.5,215.7" stroke="#1f4a1e" stroke-width="6.5" fill="none" stroke-linejoin="round" stroke-linecap="round" opacity="0.9" filter="url(#b15)"/><path d="M520.5,236 L570,228 L625.5,215.7" stroke="#4c9a3e" stroke-width="2.4" fill="none" stroke-linejoin="round" stroke-linecap="round" opacity="0.9" filter="url(#b1)"/>
<path d="M520.5,300 L574,299 L625.5,296" stroke="#1f4a1e" stroke-width="6.5" fill="none" stroke-linejoin="round" stroke-linecap="round" opacity="0.9" filter="url(#b15)"/><path d="M520.5,300 L574,299 L625.5,296" stroke="#4c9a3e" stroke-width="2.4" fill="none" stroke-linejoin="round" stroke-linecap="round" opacity="0.9" filter="url(#b1)"/>
<path d="M625,86 L627,140 L624,200 L628,260 L625,314" stroke="#1f4a1e" stroke-width="6.5" fill="none" stroke-linejoin="round" stroke-linecap="round" opacity="0.9" filter="url(#b15)"/><path d="M625,86 L627,140 L624,200 L628,260 L625,314" stroke="#4c9a3e" stroke-width="2.4" fill="none" stroke-linejoin="round" stroke-linecap="round" opacity="0.9" filter="url(#b1)"/>
<path d="M627,69 L660,67 L685.5,69" stroke="#1f4a1e" stroke-width="6.5" fill="none" stroke-linejoin="round" stroke-linecap="round" opacity="0.9" filter="url(#b15)"/><path d="M627,69 L660,67 L685.5,69" stroke="#4c9a3e" stroke-width="2.4" fill="none" stroke-linejoin="round" stroke-linecap="round" opacity="0.9" filter="url(#b1)"/>
<path d="M685.5,112.5 L660,113 L627,112.5" stroke="#1f4a1e" stroke-width="6.5" fill="none" stroke-linejoin="round" stroke-linecap="round" opacity="0.9" filter="url(#b15)"/><path d="M685.5,112.5 L660,113 L627,112.5" stroke="#4c9a3e" stroke-width="2.4" fill="none" stroke-linejoin="round" stroke-linecap="round" opacity="0.9" filter="url(#b1)"/>
<path d="M684,2 L687,40 L685,69" stroke="#1f4a1e" stroke-width="6.5" fill="none" stroke-linejoin="round" stroke-linecap="round" opacity="0.9" filter="url(#b15)"/><path d="M684,2 L687,40 L685,69" stroke="#4c9a3e" stroke-width="2.4" fill="none" stroke-linejoin="round" stroke-linecap="round" opacity="0.9" filter="url(#b1)"/>
<path d="M686,112 L688,170 L690,250 L693,314" stroke="#1f4a1e" stroke-width="6.5" fill="none" stroke-linejoin="round" stroke-linecap="round" opacity="0.9" filter="url(#b15)"/><path d="M686,112 L688,170 L690,250 L693,314" stroke="#4c9a3e" stroke-width="2.4" fill="none" stroke-linejoin="round" stroke-linecap="round" opacity="0.9" filter="url(#b1)"/>
<path d="M686,7.5 L731,6 L780,4" stroke="#1f4a1e" stroke-width="6.5" fill="none" stroke-linejoin="round" stroke-linecap="round" opacity="0.9" filter="url(#b15)"/><path d="M686,7.5 L731,6 L780,4" stroke="#4c9a3e" stroke-width="2.4" fill="none" stroke-linejoin="round" stroke-linecap="round" opacity="0.9" filter="url(#b1)"/>
<path d="M693,166 L740,168 L778,172" stroke="#1f4a1e" stroke-width="6.5" fill="none" stroke-linejoin="round" stroke-linecap="round" opacity="0.9" filter="url(#b15)"/><path d="M693,166 L740,168 L778,172" stroke="#4c9a3e" stroke-width="2.4" fill="none" stroke-linejoin="round" stroke-linecap="round" opacity="0.9" filter="url(#b1)"/>
<path d="M693,201 L778,202" stroke="#1f4a1e" stroke-width="6.5" fill="none" stroke-linejoin="round" stroke-linecap="round" opacity="0.9" filter="url(#b15)"/><path d="M693,201 L778,202" stroke="#4c9a3e" stroke-width="2.4" fill="none" stroke-linejoin="round" stroke-linecap="round" opacity="0.9" filter="url(#b1)"/>
<path d="M693,244 L778,244" stroke="#1f4a1e" stroke-width="6.5" fill="none" stroke-linejoin="round" stroke-linecap="round" opacity="0.9" filter="url(#b15)"/><path d="M693,244 L778,244" stroke="#4c9a3e" stroke-width="2.4" fill="none" stroke-linejoin="round" stroke-linecap="round" opacity="0.9" filter="url(#b1)"/>
<path d="M693,289 L740,287" stroke="#1f4a1e" stroke-width="6.5" fill="none" stroke-linejoin="round" stroke-linecap="round" opacity="0.9" filter="url(#b15)"/><path d="M693,289 L740,287" stroke="#4c9a3e" stroke-width="2.4" fill="none" stroke-linejoin="round" stroke-linecap="round" opacity="0.9" filter="url(#b1)"/>
<path d="M778,4 L780,40 L777,130 L780,200 L778,272" stroke="#1f4a1e" stroke-width="6.5" fill="none" stroke-linejoin="round" stroke-linecap="round" opacity="0.9" filter="url(#b15)"/><path d="M778,4 L780,40 L777,130 L780,200 L778,272" stroke="#4c9a3e" stroke-width="2.4" fill="none" stroke-linejoin="round" stroke-linecap="round" opacity="0.9" filter="url(#b1)"/>
<path d="M780,41 L797,37.5" stroke="#1f4a1e" stroke-width="6.5" fill="none" stroke-linejoin="round" stroke-linecap="round" opacity="0.9" filter="url(#b15)"/><path d="M780,41 L797,37.5" stroke="#4c9a3e" stroke-width="2.4" fill="none" stroke-linejoin="round" stroke-linecap="round" opacity="0.9" filter="url(#b1)"/>
<path d="M778,165 L797,157" stroke="#1f4a1e" stroke-width="6.5" fill="none" stroke-linejoin="round" stroke-linecap="round" opacity="0.9" filter="url(#b15)"/><path d="M778,165 L797,157" stroke="#4c9a3e" stroke-width="2.4" fill="none" stroke-linejoin="round" stroke-linecap="round" opacity="0.9" filter="url(#b1)"/>
<path d="M633,211 L660,206 L683,215 L688,236 L684,255 L664,263 L640,258" stroke="#1f4a1e" stroke-width="6.5" fill="none" stroke-linejoin="round" stroke-linecap="round" opacity="0.9" filter="url(#b15)"/><path d="M633,211 L660,206 L683,215 L688,236 L684,255 L664,263 L640,258" stroke="#4c9a3e" stroke-width="2.4" fill="none" stroke-linejoin="round" stroke-linecap="round" opacity="0.9" filter="url(#b1)"/>
<g filter="url(#b05)"><path d="M518.5,2.1 L518.5,10.0 L518.2,17.9 L518.2,25.8 L516.1,33.5 L516.9,41.5 L516.4,49.3 L516.1,57.1 L515.3,64.9 L515.3,72.8 L514.4,80.6 L516.0,88.5 L515.2,96.3 L514.0,104.2 L513.9,111.9 L516.1,119.0 L515.7,126.3 L515.0,133.6 L515.5,140.9 L517.5,148.0 L517.1,155.4 L518.5,162.5 L519.5,169.7 L518.3,177.2 L520.5,184.4 L519.2,191.9 L520.9,199.1 L520.6,206.5 L522.0,213.8 L521.6,221.2 L522.5,228.5 L524.3,236.1 L524.5,243.2 L524.1,250.3 L523.0,257.4 L524.0,264.5 L524.0,271.6 L523.2,278.7 L523.8,285.8 L523.1,292.9 L522.3,299.7 L524.2,306.5 L523.9,313.7" stroke="#5cb04a" stroke-width="1.1" fill="none" opacity="0.8" stroke-linejoin="round"/><path d="M516.5,2.0 L515.9,9.9 L515.4,17.7 L513.9,25.5 L515.3,33.5 L513.2,41.2 L514.3,49.2 L512.0,57.0 L512.7,64.9 L512.2,72.7 L512.5,80.6 L512.1,88.4 L511.9,96.3 L512.9,104.2 L512.7,112.0 L511.6,119.3 L513.6,126.5 L514.1,133.7 L515.0,140.9 L514.0,148.3 L514.4,155.5 L516.5,162.7 L515.2,170.1 L517.4,177.3 L517.1,184.7 L517.6,192.0 L518.8,199.3 L519.2,206.6 L519.4,214.0 L519.3,221.4 L521.0,228.6 L521.6,236.0 L519.8,243.1 L521.3,250.2 L521.5,257.3 L519.6,264.4 L519.5,271.5 L521.0,278.7 L520.2,285.8 L519.3,292.9 L520.4,299.9 L521.3,307.0 L523.1,313.8" stroke="#5cb04a" stroke-width="1.1" fill="none" opacity="0.8" stroke-linejoin="round"/><path d="M514.2,1.9 L512.7,9.7 L512.6,17.6 L511.3,25.4 L511.8,33.3 L511.8,41.2 L511.1,49.0 L511.2,57.0 L510.3,64.8 L509.7,72.7 L510.7,80.5 L509.6,88.4 L508.6,96.2 L509.1,104.1 L509.8,112.2 L509.6,119.5 L511.3,126.6 L511.8,133.9 L510.7,141.2 L511.5,148.5 L512.1,155.7 L512.8,162.9 L513.7,170.2 L513.2,177.6 L514.5,184.9 L514.4,192.3 L515.1,199.6 L516.5,206.8 L516.0,214.2 L517.6,221.5 L517.6,228.9 L517.6,235.9 L517.3,243.1 L517.9,250.2 L518.7,257.3 L518.7,264.4 L517.1,271.5 L518.2,278.6 L518.4,285.7 L517.3,292.8 L517.6,300.3 L517.9,307.4 L520.1,314.3" stroke="#5cb04a" stroke-width="1.1" fill="none" opacity="0.8" stroke-linejoin="round"/></g>
<g filter="url(#b05)"><path d="M512.8,49.9 L520.7,50.2 L528.4,47.7 L536.2,47.4 L544.1,46.7 L551.8,45.4 L559.8,44.6 L567.1,44.6 L574.4,44.8 L581.6,43.5 L588.9,44.2 L596.1,43.3 L603.3,42.7 L610.7,43.5 L617.9,42.9" stroke="#5cb04a" stroke-width="1.1" fill="none" opacity="0.8" stroke-linejoin="round"/><path d="M513.0,52.4 L520.8,51.2 L528.7,51.0 L536.5,50.6 L544.4,50.1 L552.2,49.1 L559.9,46.9 L567.2,46.9 L574.6,48.3 L581.8,47.0 L589.0,46.5 L596.2,45.3 L603.5,46.4 L610.8,46.1 L618.0,44.6" stroke="#5cb04a" stroke-width="1.1" fill="none" opacity="0.8" stroke-linejoin="round"/><path d="M513.2,54.6 L521.0,53.4 L528.9,53.2 L536.8,52.9 L544.6,52.0 L552.3,50.3 L560.1,49.7 L567.4,49.6 L574.7,50.6 L581.9,50.5 L589.2,49.9 L596.4,48.7 L603.6,48.0 L610.9,48.8 L618.2,48.2" stroke="#5cb04a" stroke-width="1.1" fill="none" opacity="0.8" stroke-linejoin="round"/></g>
<g filter="url(#b05)"><path d="M614.3,1.8 L614.9,9.4 L615.2,17.0 L616.9,24.5 L618.3,32.1 L618.1,39.8 L618.3,47.5 L620.5,55.1 L620.8,62.8 L620.7,70.5 L621.3,78.2 L623.6,85.7" stroke="#5cb04a" stroke-width="1.1" fill="none" opacity="0.8" stroke-linejoin="round"/><path d="M611.3,2.1 L613.4,9.5 L614.4,17.1 L615.4,24.7 L615.3,32.4 L616.1,40.0 L617.4,47.6 L616.9,55.4 L618.7,62.9 L617.7,70.7 L618.2,78.4 L620.4,86.0" stroke="#5cb04a" stroke-width="1.1" fill="none" opacity="0.8" stroke-linejoin="round"/><path d="M610.5,2.2 L611.2,9.8 L610.9,17.5 L612.1,25.0 L612.0,32.7 L613.6,40.2 L614.6,47.8 L615.5,55.5 L614.3,63.3 L615.5,70.9 L616.3,78.6 L618.0,86.2" stroke="#5cb04a" stroke-width="1.1" fill="none" opacity="0.8" stroke-linejoin="round"/></g>
<g filter="url(#b05)"><path d="M520.5,169.8 L528.1,170.4 L535.8,170.1 L543.4,169.2 L551.0,169.3 L558.7,170.2 L566.3,168.5 L573.9,169.7 L581.2,169.4 L588.6,168.6 L595.9,168.2 L603.3,168.6 L610.6,166.9 L618.0,167.4 L625.4,166.9" stroke="#5cb04a" stroke-width="1.1" fill="none" opacity="0.8" stroke-linejoin="round"/><path d="M520.5,173.0 L528.1,171.5 L535.8,172.8 L543.4,172.0 L551.1,171.4 L558.7,173.0 L566.4,171.6 L574.0,171.9 L581.3,171.1 L588.7,170.3 L596.0,170.3 L603.4,170.5 L610.8,170.2 L618.2,170.0 L625.5,168.2" stroke="#5cb04a" stroke-width="1.1" fill="none" opacity="0.8" stroke-linejoin="round"/><path d="M520.5,174.6 L528.2,175.8 L535.8,175.0 L543.5,175.4 L551.1,174.7 L558.7,174.6 L566.4,173.6 L574.2,175.3 L581.6,175.1 L588.9,174.2 L596.2,172.7 L603.6,173.2 L611.0,172.8 L618.3,171.5 L625.6,171.3" stroke="#5cb04a" stroke-width="1.1" fill="none" opacity="0.8" stroke-linejoin="round"/></g>
<g filter="url(#b05)"><path d="M520.2,234.3 L527.1,231.8 L534.3,231.4 L541.1,229.0 L548.2,227.8 L555.3,226.7 L562.4,226.2 L569.6,226.4 L576.4,224.1 L583.3,222.4 L590.1,220.1 L597.2,219.4 L603.9,217.0 L610.9,215.3 L617.9,214.3 L624.8,212.6" stroke="#5cb04a" stroke-width="1.1" fill="none" opacity="0.8" stroke-linejoin="round"/><path d="M520.6,236.6 L527.6,235.0 L534.7,234.0 L541.6,232.1 L548.7,231.2 L555.7,229.4 L562.9,228.7 L570.2,229.1 L577.0,226.8 L583.8,224.6 L590.9,223.7 L597.9,222.7 L604.8,221.0 L611.6,218.8 L618.4,216.5 L625.3,214.7" stroke="#5cb04a" stroke-width="1.1" fill="none" opacity="0.8" stroke-linejoin="round"/><path d="M520.8,237.6 L528.1,238.1 L535.2,236.9 L542.2,235.6 L549.3,234.5 L556.1,232.1 L563.4,231.9 L570.3,229.5 L577.3,228.0 L584.5,227.7 L591.1,224.9 L598.3,224.2 L605.2,222.5 L612.4,222.1 L619.1,219.5 L625.9,217.6" stroke="#5cb04a" stroke-width="1.1" fill="none" opacity="0.8" stroke-linejoin="round"/></g>
<g filter="url(#b05)"><path d="M520.5,297.8 L528.1,296.5 L535.8,298.2 L543.4,297.9 L551.0,297.9 L558.7,296.9 L566.3,295.8 L573.8,295.7 L581.2,296.4 L588.6,295.4 L595.9,295.6 L603.2,294.1 L610.6,294.4 L618.0,294.6 L625.3,292.9" stroke="#5cb04a" stroke-width="1.1" fill="none" opacity="0.8" stroke-linejoin="round"/><path d="M520.5,300.7 L528.1,299.1 L535.8,300.1 L543.4,298.6 L551.1,298.9 L558.7,298.3 L566.3,298.5 L574.0,299.1 L581.4,299.3 L588.8,298.8 L596.1,298.6 L603.4,296.7 L610.8,297.8 L618.1,296.3 L625.5,296.4" stroke="#5cb04a" stroke-width="1.1" fill="none" opacity="0.8" stroke-linejoin="round"/><path d="M520.6,303.1 L528.2,302.0 L535.8,301.8 L543.5,302.0 L551.1,301.7 L558.8,302.4 L566.4,302.5 L574.2,301.9 L581.5,300.2 L588.9,301.4 L596.3,300.9 L603.6,300.9 L610.9,298.8 L618.3,300.0 L625.6,298.4" stroke="#5cb04a" stroke-width="1.1" fill="none" opacity="0.8" stroke-linejoin="round"/></g>
<g filter="url(#b05)"><path d="M627.5,85.9 L628.5,93.6 L628.7,101.3 L628.6,109.0 L628.6,116.8 L629.6,124.5 L629.2,132.2 L629.8,140.1 L629.8,147.7 L628.5,155.1 L628.9,162.6 L629.1,170.2 L628.3,177.7 L627.5,185.1 L626.7,192.6 L627.5,199.8 L626.2,207.4 L628.5,214.8 L627.1,222.4 L629.6,229.8 L629.5,237.3 L630.0,244.8 L629.7,252.4 L631.5,260.2 L630.8,267.9 L629.0,275.5 L628.4,283.2 L629.9,291.1 L629.3,298.8 L628.4,306.4 L627.9,314.2" stroke="#5cb04a" stroke-width="1.1" fill="none" opacity="0.8" stroke-linejoin="round"/><path d="M624.6,86.0 L624.3,93.8 L625.3,101.4 L626.2,109.1 L626.8,116.8 L627.4,124.5 L627.7,132.3 L626.2,140.0 L625.8,147.5 L626.5,155.0 L626.5,162.5 L624.7,170.0 L625.7,177.5 L625.0,185.0 L623.5,192.5 L625.0,199.9 L624.8,207.5 L625.7,215.0 L625.6,222.5 L625.0,230.1 L625.5,237.6 L626.4,245.0 L626.7,252.6 L628.3,260.0 L627.0,267.7 L626.6,275.4 L625.8,283.1 L626.6,290.9 L625.1,298.5 L626.1,306.3 L624.8,314.0" stroke="#5cb04a" stroke-width="1.1" fill="none" opacity="0.8" stroke-linejoin="round"/><path d="M621.4,86.1 L622.2,93.8 L622.4,101.5 L624.0,109.2 L623.8,116.9 L623.7,124.7 L623.4,132.4 L625.0,139.9 L623.9,147.4 L623.1,154.8 L622.9,162.3 L623.4,169.9 L623.4,177.4 L622.5,184.9 L622.5,192.4 L621.3,200.2 L621.8,207.7 L623.4,215.1 L621.9,222.7 L622.5,230.2 L624.6,237.6 L624.9,245.1 L623.9,252.7 L626.4,259.9 L625.7,267.6 L624.8,275.3 L623.4,283.0 L624.7,290.8 L623.2,298.4 L622.3,306.1 L622.1,313.8" stroke="#5cb04a" stroke-width="1.1" fill="none" opacity="0.8" stroke-linejoin="round"/></g>
<g filter="url(#b05)"><path d="M626.8,66.3 L635.1,66.2 L643.4,65.9 L651.6,64.9 L660.2,63.9 L668.7,65.4 L677.2,66.4 L685.8,65.5" stroke="#5cb04a" stroke-width="1.1" fill="none" opacity="0.8" stroke-linejoin="round"/><path d="M627.0,69.3 L635.2,68.3 L643.5,67.3 L651.7,67.1 L660.1,66.1 L668.4,68.4 L677.0,68.5 L685.5,68.9" stroke="#5cb04a" stroke-width="1.1" fill="none" opacity="0.8" stroke-linejoin="round"/><path d="M627.2,72.4 L635.5,71.8 L643.6,70.4 L651.8,69.1 L659.8,69.8 L668.3,69.7 L676.8,71.2 L685.4,70.7" stroke="#5cb04a" stroke-width="1.1" fill="none" opacity="0.8" stroke-linejoin="round"/></g>
<g filter="url(#b05)"><path d="M685.5,114.4 L677.0,114.5 L668.6,116.1 L660.0,114.9 L651.7,116.4 L643.4,116.1 L635.2,115.1 L627.0,115.7" stroke="#5cb04a" stroke-width="1.1" fill="none" opacity="0.8" stroke-linejoin="round"/><path d="M685.5,112.7 L677.0,113.0 L668.5,112.3 L660.0,112.4 L651.8,112.0 L643.5,113.3 L635.2,113.2 L627.0,111.8" stroke="#5cb04a" stroke-width="1.1" fill="none" opacity="0.8" stroke-linejoin="round"/><path d="M685.5,110.1 L677.0,110.9 L668.4,110.2 L660.0,111.0 L651.8,110.0 L643.5,110.4 L635.3,110.8 L627.0,109.3" stroke="#5cb04a" stroke-width="1.1" fill="none" opacity="0.8" stroke-linejoin="round"/></g>
<g filter="url(#b05)"><path d="M685.7,1.9 L688.0,9.3 L688.4,16.9 L688.4,24.6 L689.7,32.1 L688.6,40.1 L689.2,47.4 L689.5,54.7 L688.8,62.0 L688.2,69.2" stroke="#5cb04a" stroke-width="1.1" fill="none" opacity="0.8" stroke-linejoin="round"/><path d="M684.5,2.0 L684.4,9.6 L684.4,17.3 L686.0,24.8 L686.3,32.4 L686.0,39.9 L686.5,47.3 L686.3,54.5 L684.7,61.7 L684.6,69.0" stroke="#5cb04a" stroke-width="1.1" fill="none" opacity="0.8" stroke-linejoin="round"/><path d="M681.6,2.2 L681.3,9.9 L683.2,17.4 L684.1,24.9 L684.4,32.6 L684.8,39.8 L683.1,47.0 L683.9,54.4 L683.8,61.6 L683.3,68.9" stroke="#5cb04a" stroke-width="1.1" fill="none" opacity="0.8" stroke-linejoin="round"/></g>
<g filter="url(#b05)"><path d="M687.9,111.9 L688.8,119.2 L688.1,126.4 L689.7,133.6 L690.4,140.9 L690.5,148.1 L689.5,155.4 L690.3,162.7 L689.8,170.0 L689.8,177.2 L691.0,184.5 L692.0,191.7 L690.6,199.0 L690.7,206.3 L691.5,213.6 L691.8,220.8 L691.4,228.1 L692.5,235.4 L693.5,242.6 L691.6,249.9 L693.0,257.0 L693.6,264.1 L692.8,271.3 L693.0,278.4 L694.4,285.4 L694.1,292.6 L693.8,299.7 L695.2,306.8 L695.6,313.9" stroke="#5cb04a" stroke-width="1.1" fill="none" opacity="0.8" stroke-linejoin="round"/><path d="M685.0,112.0 L687.1,119.2 L686.1,126.5 L687.4,133.7 L687.4,141.0 L686.6,148.3 L688.4,155.5 L686.8,162.8 L687.5,170.0 L687.2,177.3 L687.6,184.6 L688.3,191.8 L688.9,199.1 L689.8,206.3 L688.2,213.7 L688.7,220.9 L689.9,228.2 L690.1,235.4 L688.8,242.8 L690.4,250.0 L691.1,257.1 L691.3,264.2 L690.5,271.4 L690.7,278.5 L692.2,285.5 L691.6,292.7 L692.1,299.8 L692.3,306.9 L693.7,314.0" stroke="#5cb04a" stroke-width="1.1" fill="none" opacity="0.8" stroke-linejoin="round"/><path d="M682.8,112.1 L684.5,119.3 L684.8,126.6 L683.9,133.8 L683.5,141.1 L684.2,148.4 L684.1,155.6 L684.4,162.9 L685.0,170.1 L684.7,177.4 L684.7,184.6 L685.2,191.9 L686.9,199.1 L686.8,206.4 L686.6,213.7 L686.6,221.0 L686.9,228.2 L686.2,235.5 L686.9,242.8 L686.5,250.2 L686.7,257.3 L689.1,264.3 L688.9,271.4 L687.7,278.6 L689.9,285.6 L689.7,292.8 L690.5,299.9 L689.7,307.0 L690.5,314.1" stroke="#5cb04a" stroke-width="1.1" fill="none" opacity="0.8" stroke-linejoin="round"/></g>
<g filter="url(#b05)"><path d="M685.9,5.7 L693.4,5.7 L700.9,5.2 L708.4,3.7 L715.9,4.2 L723.4,4.7 L730.9,3.2 L737.9,3.0 L744.9,3.9 L751.9,2.7 L758.9,1.2 L765.9,2.1 L772.9,0.9 L779.9,0.4" stroke="#5cb04a" stroke-width="1.1" fill="none" opacity="0.8" stroke-linejoin="round"/><path d="M686.0,8.3 L693.5,7.8 L701.0,6.8 L708.5,7.7 L716.0,5.9 L723.5,5.3 L731.0,5.0 L738.0,5.7 L745.0,4.9 L752.0,5.5 L759.0,5.9 L766.0,4.5 L773.0,5.0 L780.0,3.2" stroke="#5cb04a" stroke-width="1.1" fill="none" opacity="0.8" stroke-linejoin="round"/><path d="M686.1,10.6 L693.6,9.2 L701.1,10.4 L708.6,9.4 L716.1,8.8 L723.6,8.6 L731.1,8.0 L738.1,8.8 L745.1,8.0 L752.1,7.0 L759.1,7.0 L766.1,6.9 L773.1,6.4 L780.1,5.9" stroke="#5cb04a" stroke-width="1.1" fill="none" opacity="0.8" stroke-linejoin="round"/></g>
<g filter="url(#b05)"><path d="M693.1,163.5 L700.9,164.2 L708.8,163.0 L716.6,164.8 L724.5,164.1 L732.3,165.1 L740.2,166.1 L747.9,165.8 L755.4,167.8 L763.2,166.9 L770.7,168.2 L778.4,168.3" stroke="#5cb04a" stroke-width="1.1" fill="none" opacity="0.8" stroke-linejoin="round"/><path d="M693.0,165.2 L700.8,166.8 L708.6,167.6 L716.5,167.6 L724.4,166.7 L732.2,167.9 L740.0,168.3 L747.7,168.3 L755.3,168.6 L762.7,171.2 L770.3,172.1 L778.0,171.7" stroke="#5cb04a" stroke-width="1.1" fill="none" opacity="0.8" stroke-linejoin="round"/><path d="M692.9,167.7 L700.7,169.6 L708.6,168.6 L716.4,168.6 L724.2,171.0 L732.1,169.6 L739.8,170.0 L747.3,171.7 L754.9,172.7 L762.5,173.3 L770.2,173.1 L777.6,175.5" stroke="#5cb04a" stroke-width="1.1" fill="none" opacity="0.8" stroke-linejoin="round"/></g>
<g filter="url(#b05)"><path d="M693.0,198.1 L700.1,197.8 L707.2,199.2 L714.3,198.1 L721.4,198.6 L728.5,198.3 L735.5,198.8 L742.6,199.6 L749.7,198.2 L756.8,200.2 L763.9,199.2 L770.9,200.1 L778.0,199.3" stroke="#5cb04a" stroke-width="1.1" fill="none" opacity="0.8" stroke-linejoin="round"/><path d="M693.0,200.7 L700.1,201.2 L707.2,200.2 L714.3,200.6 L721.3,200.5 L728.4,200.7 L735.5,201.0 L742.6,200.9 L749.7,202.6 L756.8,200.8 L763.8,201.3 L770.9,201.0 L778.0,202.2" stroke="#5cb04a" stroke-width="1.1" fill="none" opacity="0.8" stroke-linejoin="round"/><path d="M693.0,204.4 L700.1,203.8 L707.1,203.5 L714.2,204.5 L721.3,204.1 L728.4,204.5 L735.5,204.6 L742.6,203.7 L749.6,203.3 L756.7,203.9 L763.8,203.8 L770.9,205.1 L778.0,205.4" stroke="#5cb04a" stroke-width="1.1" fill="none" opacity="0.8" stroke-linejoin="round"/></g>
<g filter="url(#b05)"><path d="M693.0,240.4 L700.1,241.6 L707.2,241.5 L714.2,241.3 L721.3,240.8 L728.4,242.5 L735.5,242.1 L742.6,242.0 L749.7,242.1 L756.8,242.3 L763.8,242.3 L770.9,242.0 L778.0,241.8" stroke="#5cb04a" stroke-width="1.1" fill="none" opacity="0.8" stroke-linejoin="round"/><path d="M693.0,243.0 L700.1,243.6 L707.2,243.6 L714.2,244.6 L721.3,243.0 L728.4,244.5 L735.5,243.8 L742.6,243.1 L749.7,243.7 L756.8,243.5 L763.8,244.4 L770.9,243.5 L778.0,243.4" stroke="#5cb04a" stroke-width="1.1" fill="none" opacity="0.8" stroke-linejoin="round"/><path d="M693.0,247.3 L700.1,246.4 L707.2,247.2 L714.2,245.8 L721.3,246.3 L728.4,245.9 L735.5,246.0 L742.6,246.6 L749.7,247.4 L756.8,246.6 L763.8,247.4 L770.9,246.2 L778.0,245.6" stroke="#5cb04a" stroke-width="1.1" fill="none" opacity="0.8" stroke-linejoin="round"/></g>
<g filter="url(#b05)"><path d="M692.9,287.1 L700.7,285.6 L708.5,285.3 L716.4,285.8 L724.3,286.2 L732.1,284.8 L739.9,284.4" stroke="#5cb04a" stroke-width="1.1" fill="none" opacity="0.8" stroke-linejoin="round"/><path d="M693.0,288.4 L700.8,287.7 L708.7,288.0 L716.5,287.4 L724.3,287.8 L732.1,286.5 L740.0,286.5" stroke="#5cb04a" stroke-width="1.1" fill="none" opacity="0.8" stroke-linejoin="round"/><path d="M693.1,291.1 L700.9,290.2 L708.8,291.6 L716.6,290.3 L724.5,290.7 L732.3,290.4 L740.1,290.1" stroke="#5cb04a" stroke-width="1.1" fill="none" opacity="0.8" stroke-linejoin="round"/></g>
<g filter="url(#b05)"><path d="M780.5,3.9 L781.7,11.0 L781.2,18.3 L782.2,25.4 L782.7,32.6 L781.9,40.1 L781.5,47.6 L781.3,55.1 L781.0,62.6 L781.4,70.1 L780.6,77.6 L780.8,85.1 L780.0,92.6 L781.3,100.1 L781.0,107.6 L781.0,115.1 L780.1,122.6 L778.5,129.9 L779.7,136.9 L780.7,143.9 L780.2,150.9 L781.2,157.9 L780.9,164.9 L780.9,171.9 L781.2,178.9 L781.8,185.9 L782.5,192.9 L783.3,200.1 L783.3,207.3 L783.1,214.5 L782.3,221.7 L781.0,228.9 L780.8,236.0 L782.1,243.3 L780.7,250.5 L781.3,257.7 L781.1,264.9 L779.7,272.0" stroke="#5cb04a" stroke-width="1.1" fill="none" opacity="0.8" stroke-linejoin="round"/><path d="M777.8,4.0 L778.3,11.2 L777.9,18.5 L779.7,25.6 L780.0,32.8 L780.9,40.0 L780.2,47.5 L779.0,55.0 L780.2,62.5 L779.0,70.0 L779.5,77.5 L778.5,85.0 L779.2,92.5 L777.7,100.0 L777.8,107.5 L776.7,115.0 L777.8,122.5 L777.8,130.0 L777.1,137.0 L778.0,144.0 L776.9,151.0 L777.9,158.0 L777.7,165.0 L778.6,172.0 L778.7,179.0 L779.9,186.0 L779.7,193.0 L780.6,200.0 L779.4,207.2 L779.7,214.4 L778.5,221.6 L779.0,228.8 L778.5,236.0 L779.7,243.2 L777.5,250.4 L777.8,257.6 L778.7,264.8 L777.6,272.0" stroke="#5cb04a" stroke-width="1.1" fill="none" opacity="0.8" stroke-linejoin="round"/><path d="M775.0,4.2 L776.2,11.3 L776.7,18.5 L777.5,25.7 L777.8,32.9 L777.7,39.9 L777.6,47.4 L777.6,54.9 L775.8,62.4 L777.1,69.9 L776.4,77.4 L776.8,84.9 L775.8,92.4 L776.4,99.9 L775.8,107.4 L774.1,114.9 L774.5,122.4 L774.1,130.1 L774.6,137.1 L774.8,144.1 L776.1,151.1 L776.6,158.1 L775.8,165.1 L776.8,172.1 L777.6,179.1 L776.0,186.1 L776.9,193.1 L776.8,199.9 L777.7,207.1 L777.7,214.3 L776.2,221.5 L777.3,228.7 L776.9,235.9 L775.2,243.1 L775.6,250.3 L775.2,257.5 L774.9,264.7 L776.3,272.0" stroke="#5cb04a" stroke-width="1.1" fill="none" opacity="0.8" stroke-linejoin="round"/></g>
<g filter="url(#b05)"><path d="M779.3,37.6 L787.9,36.2 L796.7,35.8" stroke="#5cb04a" stroke-width="1.1" fill="none" opacity="0.8" stroke-linejoin="round"/><path d="M780.2,41.9 L788.3,38.4 L797.0,37.6" stroke="#5cb04a" stroke-width="1.1" fill="none" opacity="0.8" stroke-linejoin="round"/><path d="M780.3,42.6 L789.0,41.7 L797.7,40.7" stroke="#5cb04a" stroke-width="1.1" fill="none" opacity="0.8" stroke-linejoin="round"/></g>
<g filter="url(#b05)"><path d="M776.9,162.5 L786.3,158.1 L795.7,154.0" stroke="#5cb04a" stroke-width="1.1" fill="none" opacity="0.8" stroke-linejoin="round"/><path d="M778.2,165.6 L787.5,161.0 L796.6,156.0" stroke="#5cb04a" stroke-width="1.1" fill="none" opacity="0.8" stroke-linejoin="round"/><path d="M778.8,166.8 L788.2,162.6 L798.0,159.3" stroke="#5cb04a" stroke-width="1.1" fill="none" opacity="0.8" stroke-linejoin="round"/></g>
<g filter="url(#b05)"><path d="M632.4,207.7 L641.5,206.6 L650.4,204.3 L660.5,204.6 L668.4,207.1 L676.6,208.6 L685.1,214.5 L688.0,221.2 L688.2,228.5 L690.4,236.5 L688.0,245.9 L685.0,257.5 L678.1,259.6 L671.7,263.0 L663.5,265.2 L655.4,264.4 L647.3,263.0 L639.6,260.1" stroke="#5cb04a" stroke-width="1.1" fill="none" opacity="0.8" stroke-linejoin="round"/><path d="M633.2,211.9 L642.0,209.6 L650.9,207.1 L660.2,205.4 L667.9,208.4 L675.4,211.9 L683.2,214.9 L685.1,221.9 L686.1,229.1 L688.1,236.0 L686.6,245.6 L684.3,255.8 L677.2,257.4 L671.0,261.1 L664.1,262.7 L655.8,262.2 L648.0,259.9 L639.9,258.4" stroke="#5cb04a" stroke-width="1.1" fill="none" opacity="0.8" stroke-linejoin="round"/><path d="M633.6,214.3 L642.3,211.1 L651.6,211.1 L659.2,208.1 L666.9,210.8 L674.4,214.4 L679.6,215.8 L682.0,222.6 L684.5,229.4 L684.5,235.3 L684.1,245.1 L682.8,252.0 L676.2,254.7 L669.3,257.0 L664.7,259.5 L656.6,258.5 L648.6,256.7 L640.7,254.8" stroke="#5cb04a" stroke-width="1.1" fill="none" opacity="0.8" stroke-linejoin="round"/></g>
<path d="M513,112.5 L545.7,103 L584,99 L605,91.5 L626,86" stroke="#78e24e" stroke-width="3.8" fill="none" stroke-linejoin="round" stroke-linecap="round" opacity="1" filter="url(#b1)"/>
<path d="M626,86 L630,100 L630,114.4 L624,133.5 L622,160" stroke="#78e24e" stroke-width="3.8" fill="none" stroke-linejoin="round" stroke-linecap="round" opacity="1" filter="url(#b1)"/>
<path d="M685,76.3 L689,114.4 L694.6,133.5 L700,139 L740,137 L776.6,131.6" stroke="#78e24e" stroke-width="3.8" fill="none" stroke-linejoin="round" stroke-linecap="round" opacity="1" filter="url(#b1)"/>
<path d="M620,216.8 L633.4,222.5 L635,237.7 L637,251 L631.5,268 L622,279.7" stroke="#78e24e" stroke-width="3.8" fill="none" stroke-linejoin="round" stroke-linecap="round" opacity="1" filter="url(#b1)"/>
<path d="M685,76.3 L702,70.6 L730.8,66.8 L769,66.8 L771,95.4 L776.6,131.6" stroke="#52b23a" stroke-width="2.6" fill="none" stroke-linejoin="round" stroke-linecap="round" opacity="0.9" filter="url(#b1)"/>
<path d="M627,69 L660,67 L685.5,72" stroke="#52b23a" stroke-width="2.4" fill="none" stroke-linejoin="round" stroke-linecap="round" opacity="0.8" filter="url(#b1)"/>
<polygon points="657,314.5 796,268.5 796,314.5" fill="#271c2b"/>
<rect x="749.5" y="299.7" width="34.7" height="3.8" fill="#fff"/>
<line x1="613.4" y1="122" x2="613.4" y2="100.5" stroke="#fff" stroke-width="2.6"/><polygon points="613.4,91.5 618.4,100.5 608.4,100.5" fill="#fff"/>
<line x1="721.3" y1="86.8" x2="698.8" y2="104.2" stroke="#fff" stroke-width="2.6"/><polygon points="691.7,109.7 695.8,100.2 701.9,108.1" fill="#fff"/>
<line x1="597" y1="248" x2="614.4" y2="225.8" stroke="#fff" stroke-width="2.6"/><polygon points="620,218.7 618.4,228.9 610.5,222.7" fill="#fff"/>
<text transform="translate(587.5,158) scale(1.1,1)" font-size="23.5" fill="#fff">U</text>
<text transform="translate(717.5,125) scale(1.1,1)" font-size="23.5" fill="#fff">U</text>
<text transform="translate(532.0,276.8) scale(1.1,1)" font-size="23.5" fill="#fff">U</text>
<text x="651.5" y="107" font-size="31" font-weight="bold" fill="#fff">*</text>
<text x="504.7" y="35.9" font-size="34.5" font-weight="bold" fill="#fff">C</text>
</g>
<g fill="#000">
<line x1="70.5" y1="717.47" x2="786" y2="717.47" stroke="#1a1a1a" stroke-width="1.3"/>
<line x1="70.5" y1="677.94" x2="786" y2="677.94" stroke="#1a1a1a" stroke-width="1.3"/>
<line x1="70.5" y1="638.41" x2="786" y2="638.41" stroke="#1a1a1a" stroke-width="1.3"/>
<line x1="70.5" y1="598.88" x2="786" y2="598.88" stroke="#1a1a1a" stroke-width="1.3"/>
<line x1="70.5" y1="559.35" x2="786" y2="559.35" stroke="#1a1a1a" stroke-width="1.3"/>
<line x1="70.5" y1="519.82" x2="786" y2="519.82" stroke="#1a1a1a" stroke-width="1.3"/>
<line x1="70.5" y1="480.29" x2="786" y2="480.29" stroke="#1a1a1a" stroke-width="1.3"/>
<line x1="70.5" y1="440.76" x2="786" y2="440.76" stroke="#1a1a1a" stroke-width="1.3"/>
<line x1="70.5" y1="401.23" x2="786" y2="401.23" stroke="#1a1a1a" stroke-width="1.3"/>
<line x1="70.5" y1="361.70" x2="786" y2="361.70" stroke="#1a1a1a" stroke-width="1.3"/>
<line x1="785.8" y1="361.70" x2="785.8" y2="480.29" stroke="#1a1a1a" stroke-width="1.3"/>
<rect x="75.00" y="454.20" width="30.88" height="302.80" fill="#9999FF" stroke="#111" stroke-width="1.1"/>
<rect x="75.00" y="426.13" width="30.88" height="28.07" fill="#873364" stroke="#111" stroke-width="1.1"/>
<rect x="75.00" y="393.32" width="30.88" height="32.81" fill="#FFFFCC" stroke="#111" stroke-width="1.1"/>
<path d="M90.44 389.77V397.28M87.44 389.77h6M87.44 397.28h6" stroke="#111" stroke-width="1.2" fill="none"/>
<rect x="105.88" y="740.40" width="30.88" height="16.60" fill="#9999FF" stroke="#111" stroke-width="1.1"/>
<rect x="105.88" y="734.47" width="30.88" height="5.93" fill="#873364" stroke="#111" stroke-width="1.1"/>
<rect x="105.88" y="725.38" width="30.88" height="9.09" fill="#FFFFCC" stroke="#111" stroke-width="1.1"/>
<path d="M121.32 722.21V728.93M118.32 722.21h6M118.32 728.93h6" stroke="#111" stroke-width="1.2" fill="none"/>
<rect x="167.64" y="617.85" width="30.88" height="139.15" fill="#9999FF" stroke="#111" stroke-width="1.1"/>
<rect x="167.64" y="550.26" width="30.88" height="67.60" fill="#873364" stroke="#111" stroke-width="1.1"/>
<rect x="167.64" y="484.64" width="30.88" height="65.62" fill="#FFFFCC" stroke="#111" stroke-width="1.1"/>
<path d="M183.08 471.59V497.29M180.08 471.59h6M180.08 497.29h6" stroke="#111" stroke-width="1.2" fill="none"/>
<rect x="198.52" y="708.77" width="30.88" height="48.23" fill="#9999FF" stroke="#111" stroke-width="1.1"/>
<rect x="198.52" y="680.71" width="30.88" height="28.07" fill="#873364" stroke="#111" stroke-width="1.1"/>
<rect x="198.52" y="634.46" width="30.88" height="46.25" fill="#FFFFCC" stroke="#111" stroke-width="1.1"/>
<path d="M213.96 621.81V647.50M210.96 621.81h6M210.96 647.50h6" stroke="#111" stroke-width="1.2" fill="none"/>
<rect x="260.28" y="609.55" width="30.88" height="147.45" fill="#9999FF" stroke="#111" stroke-width="1.1"/>
<rect x="260.28" y="552.23" width="30.88" height="57.32" fill="#873364" stroke="#111" stroke-width="1.1"/>
<rect x="260.28" y="504.40" width="30.88" height="47.83" fill="#FFFFCC" stroke="#111" stroke-width="1.1"/>
<path d="M275.72 492.54V515.87M272.72 492.54h6M272.72 515.87h6" stroke="#111" stroke-width="1.2" fill="none"/>
<rect x="291.16" y="712.73" width="30.88" height="44.27" fill="#9999FF" stroke="#111" stroke-width="1.1"/>
<rect x="291.16" y="679.92" width="30.88" height="32.81" fill="#873364" stroke="#111" stroke-width="1.1"/>
<rect x="291.16" y="615.09" width="30.88" height="64.83" fill="#FFFFCC" stroke="#111" stroke-width="1.1"/>
<path d="M306.60 603.62V626.16M303.60 603.62h6M303.60 626.16h6" stroke="#111" stroke-width="1.2" fill="none"/>
<rect x="352.92" y="630.11" width="30.88" height="126.89" fill="#9999FF" stroke="#111" stroke-width="1.1"/>
<rect x="352.92" y="570.02" width="30.88" height="60.09" fill="#873364" stroke="#111" stroke-width="1.1"/>
<rect x="352.92" y="496.50" width="30.88" height="73.53" fill="#FFFFCC" stroke="#111" stroke-width="1.1"/>
<path d="M368.36 483.85V507.57M365.36 483.85h6M365.36 507.57h6" stroke="#111" stroke-width="1.2" fill="none"/>
<rect x="383.80" y="704.82" width="30.88" height="52.18" fill="#9999FF" stroke="#111" stroke-width="1.1"/>
<rect x="383.80" y="671.22" width="30.88" height="33.60" fill="#873364" stroke="#111" stroke-width="1.1"/>
<rect x="383.80" y="622.99" width="30.88" height="48.23" fill="#FFFFCC" stroke="#111" stroke-width="1.1"/>
<path d="M399.24 611.53V635.25M396.24 611.53h6M396.24 635.25h6" stroke="#111" stroke-width="1.2" fill="none"/>
<rect x="445.56" y="645.53" width="30.88" height="111.47" fill="#9999FF" stroke="#111" stroke-width="1.1"/>
<rect x="445.56" y="580.30" width="30.88" height="65.22" fill="#873364" stroke="#111" stroke-width="1.1"/>
<rect x="445.56" y="508.75" width="30.88" height="71.55" fill="#FFFFCC" stroke="#111" stroke-width="1.1"/>
<path d="M461.00 498.47V517.05M458.00 498.47h6M458.00 517.05h6" stroke="#111" stroke-width="1.2" fill="none"/>
<rect x="476.44" y="700.47" width="30.88" height="56.53" fill="#9999FF" stroke="#111" stroke-width="1.1"/>
<rect x="476.44" y="675.96" width="30.88" height="24.51" fill="#873364" stroke="#111" stroke-width="1.1"/>
<rect x="476.44" y="610.74" width="30.88" height="65.22" fill="#FFFFCC" stroke="#111" stroke-width="1.1"/>
<path d="M491.88 601.25V619.83M488.88 601.25h6M488.88 619.83h6" stroke="#111" stroke-width="1.2" fill="none"/>
<rect x="538.20" y="720.63" width="30.88" height="36.37" fill="#9999FF" stroke="#111" stroke-width="1.1"/>
<rect x="538.20" y="675.96" width="30.88" height="44.67" fill="#873364" stroke="#111" stroke-width="1.1"/>
<rect x="538.20" y="621.02" width="30.88" height="54.95" fill="#FFFFCC" stroke="#111" stroke-width="1.1"/>
<path d="M553.64 615.48V625.37M550.64 615.48h6M550.64 625.37h6" stroke="#111" stroke-width="1.2" fill="none"/>
<rect x="569.08" y="701.26" width="30.88" height="55.74" fill="#9999FF" stroke="#111" stroke-width="1.1"/>
<rect x="569.08" y="628.92" width="30.88" height="72.34" fill="#873364" stroke="#111" stroke-width="1.1"/>
<rect x="569.08" y="498.08" width="30.88" height="130.84" fill="#FFFFCC" stroke="#111" stroke-width="1.1"/>
<path d="M584.52 493.33V503.22M581.52 493.33h6M581.52 503.22h6" stroke="#111" stroke-width="1.2" fill="none"/>
<rect x="630.84" y="724.98" width="30.88" height="32.02" fill="#9999FF" stroke="#111" stroke-width="1.1"/>
<rect x="630.84" y="683.47" width="30.88" height="41.51" fill="#873364" stroke="#111" stroke-width="1.1"/>
<rect x="630.84" y="615.48" width="30.88" height="67.99" fill="#FFFFCC" stroke="#111" stroke-width="1.1"/>
<path d="M646.28 609.55V621.41M643.28 609.55h6M643.28 621.41h6" stroke="#111" stroke-width="1.2" fill="none"/>
<rect x="661.72" y="704.43" width="30.88" height="52.57" fill="#9999FF" stroke="#111" stroke-width="1.1"/>
<rect x="661.72" y="628.92" width="30.88" height="75.50" fill="#873364" stroke="#111" stroke-width="1.1"/>
<rect x="661.72" y="503.22" width="30.88" height="125.71" fill="#FFFFCC" stroke="#111" stroke-width="1.1"/>
<path d="M677.16 497.68V508.75M674.16 497.68h6M674.16 508.75h6" stroke="#111" stroke-width="1.2" fill="none"/>
<rect x="723.48" y="724.19" width="30.88" height="32.81" fill="#9999FF" stroke="#111" stroke-width="1.1"/>
<rect x="723.48" y="694.15" width="30.88" height="30.04" fill="#873364" stroke="#111" stroke-width="1.1"/>
<rect x="723.48" y="636.83" width="30.88" height="57.32" fill="#FFFFCC" stroke="#111" stroke-width="1.1"/>
<path d="M738.92 628.92V643.94M735.92 628.92h6M735.92 643.94h6" stroke="#111" stroke-width="1.2" fill="none"/>
<rect x="754.36" y="689.80" width="30.88" height="67.20" fill="#9999FF" stroke="#111" stroke-width="1.1"/>
<rect x="754.36" y="628.92" width="30.88" height="60.88" fill="#873364" stroke="#111" stroke-width="1.1"/>
<rect x="754.36" y="482.27" width="30.88" height="146.66" fill="#FFFFCC" stroke="#111" stroke-width="1.1"/>
<path d="M769.80 474.76V490.17M766.80 474.76h6M766.80 490.17h6" stroke="#111" stroke-width="1.2" fill="none"/>
<line x1="75" y1="361.70" x2="75" y2="757.00" stroke="#1a1a1a" stroke-width="1.3"/>
<line x1="75" y1="757.00" x2="786" y2="757.00" stroke="#1a1a1a" stroke-width="1.3"/>
<path d="M75.00 757.00v4M105.88 757.00v4M136.76 757.00v4M167.64 757.00v4M198.52 757.00v4M229.40 757.00v4M260.28 757.00v4M291.16 757.00v4M322.04 757.00v4M352.92 757.00v4M383.80 757.00v4M414.68 757.00v4M445.56 757.00v4M476.44 757.00v4M507.32 757.00v4M538.20 757.00v4M569.08 757.00v4M599.96 757.00v4M630.84 757.00v4M661.72 757.00v4M692.60 757.00v4M723.48 757.00v4M754.36 757.00v4M785.24 757.00v4" stroke="#1a1a1a" stroke-width="1.2"/>
<text transform="translate(65.3,724.17) scale(0.9,1)" font-size="19" text-anchor="end">10</text>
<text transform="translate(65.3,684.64) scale(0.9,1)" font-size="19" text-anchor="end">20</text>
<text transform="translate(65.3,645.11) scale(0.9,1)" font-size="19" text-anchor="end">30</text>
<text transform="translate(65.3,605.58) scale(0.9,1)" font-size="19" text-anchor="end">40</text>
<text transform="translate(65.3,566.05) scale(0.9,1)" font-size="19" text-anchor="end">50</text>
<text transform="translate(65.3,526.52) scale(0.9,1)" font-size="19" text-anchor="end">60</text>
<text transform="translate(65.3,486.99) scale(0.9,1)" font-size="19" text-anchor="end">70</text>
<text transform="translate(65.3,447.46) scale(0.9,1)" font-size="19" text-anchor="end">80</text>
<text transform="translate(65.3,407.93) scale(0.9,1)" font-size="19" text-anchor="end">90</text>
<text transform="translate(65.3,368.40) scale(0.9,1)" font-size="19" text-anchor="end">100</text>
<text x="90.44" y="782" font-size="26" text-anchor="middle">P</text>
<text x="121.32" y="782" font-size="26" text-anchor="middle">U</text>
<text x="183.08" y="782" font-size="26" text-anchor="middle">P</text>
<text x="213.96" y="782" font-size="26" text-anchor="middle">U</text>
<text x="275.72" y="782" font-size="26" text-anchor="middle">P</text>
<text x="306.60" y="782" font-size="26" text-anchor="middle">U</text>
<text x="368.36" y="782" font-size="26" text-anchor="middle">P</text>
<text x="399.24" y="782" font-size="26" text-anchor="middle">U</text>
<text x="461.00" y="782" font-size="26" text-anchor="middle">P</text>
<text x="491.88" y="782" font-size="26" text-anchor="middle">U</text>
<text x="553.64" y="782" font-size="26" text-anchor="middle">P</text>
<text x="584.52" y="782" font-size="26" text-anchor="middle">U</text>
<text x="646.28" y="782" font-size="26" text-anchor="middle">P</text>
<text x="677.16" y="782" font-size="26" text-anchor="middle">U</text>
<text x="738.92" y="782" font-size="26" text-anchor="middle">P</text>
<text x="769.80" y="782" font-size="26" text-anchor="middle">U</text>
<rect x="505.5" y="368.5" width="26.5" height="26.5" fill="#FFFFCC" stroke="#111" stroke-width="1.1"/>
<text transform="translate(539.5,389.3) scale(1.06,1)" font-size="25">no patch</text>
<rect x="505.5" y="407.2" width="26.5" height="26.5" fill="#873364" stroke="#111" stroke-width="1.1"/>
<text transform="translate(539.5,428.0) scale(1.06,1)" font-size="25">delocalized patch</text>
<rect x="505.5" y="448.4" width="26.5" height="26.5" fill="#9999FF" stroke="#111" stroke-width="1.1"/>
<text transform="translate(539.5,469.2) scale(1.06,1)" font-size="25">normal patch</text>
<text transform="translate(94.75,790.9) rotate(90)" font-size="22.7" font-weight="bold">wild type</text>
<text transform="translate(190.1,791.3) rotate(90)" font-size="22.7" font-weight="bold" font-style="italic">pan1-Mu</text>
<text transform="translate(284.2,791.3) rotate(90)" font-size="22.7" font-weight="bold" font-style="italic">pan1-ems</text>
<text transform="translate(380.5,791.1) rotate(90)" font-size="22.7" font-weight="bold" font-style="italic">pan2-O</text>
<text transform="translate(468.0,790.6999999999999) rotate(90)" font-size="22.7" font-weight="bold" font-style="italic">pan2-2</text>
<text transform="translate(580.2,789.1999999999999) rotate(90)" font-size="22.7" font-weight="bold" font-style="italic">pan1-Mu;</text>
<text transform="translate(552.7,789.1999999999999) rotate(90)" font-size="22.7" font-weight="bold" font-style="italic">pan2-O</text>
<text transform="translate(671.3,789.6) rotate(90)" font-size="22.7" font-weight="bold" font-style="italic">pan1-ems;</text>
<text transform="translate(644.2,789.6) rotate(90)" font-size="22.7" font-weight="bold" font-style="italic">pan2-O</text>
<text transform="translate(763.9,791.4) rotate(90)" font-size="22.7" font-weight="bold" font-style="italic">pan1-ems;</text>
<text transform="translate(737.3,791.4) rotate(90)" font-size="22.7" font-weight="bold" font-style="italic">pan2-2</text>
<text transform="translate(32.75,561) rotate(-90)" font-size="33" font-weight="bold" text-anchor="middle">% SMCs</text>
<text x="0.5" y="377.7" font-size="33" font-weight="bold">D</text>
<line x1="125" y1="1291.70" x2="783.5" y2="1291.70" stroke="#888888" stroke-width="1.5"/>
<line x1="125" y1="1242.90" x2="783.5" y2="1242.90" stroke="#888888" stroke-width="1.5"/>
<line x1="125" y1="1194.60" x2="783.5" y2="1194.60" stroke="#888888" stroke-width="1.5"/>
<line x1="125" y1="1147.60" x2="783.5" y2="1147.60" stroke="#888888" stroke-width="1.5"/>
<line x1="125" y1="1098.70" x2="783.5" y2="1098.70" stroke="#888888" stroke-width="1.5"/>
<line x1="125" y1="1049.90" x2="783.5" y2="1049.90" stroke="#888888" stroke-width="1.5"/>
<line x1="125" y1="1002.70" x2="783.5" y2="1002.70" stroke="#888888" stroke-width="1.5"/>
<line x1="125" y1="954.00" x2="783.5" y2="954.00" stroke="#888888" stroke-width="1.5"/>
<line x1="783" y1="954.00" x2="783" y2="1338.80" stroke="#888888" stroke-width="1.5"/>
<line x1="131.4" y1="954.00" x2="131.4" y2="1338.80" stroke="#888888" stroke-width="1.5"/>
<line x1="125" y1="1338.80" x2="783.5" y2="1338.80" stroke="#888888" stroke-width="1.5"/>
<path d="M131.40 1338.80v7M212.80 1338.80v7M294.20 1338.80v7M375.60 1338.80v7M457.00 1338.80v7M538.40 1338.80v7M619.80 1338.80v7M701.20 1338.80v7" stroke="#888888" stroke-width="1.5"/>
<rect x="310.65" y="1310.30" width="50.5" height="28.50" fill="#A3A3A3"/>
<path d="M335.90 1298.00V1323.60M330.30 1298.00h11.2M330.30 1323.60h11.2" stroke="#000" stroke-width="2.3" fill="none"/>
<rect x="392.05" y="1304.00" width="50.5" height="34.80" fill="#A3A3A3"/>
<path d="M417.30 1296.20V1311.30M411.70 1296.20h11.2M411.70 1311.30h11.2" stroke="#000" stroke-width="2.3" fill="none"/>
<rect x="473.45" y="1296.20" width="50.5" height="42.60" fill="#A3A3A3"/>
<path d="M498.70 1275.80V1315.50M493.10 1275.80h11.2M493.10 1315.50h11.2" stroke="#000" stroke-width="2.3" fill="none"/>
<rect x="554.85" y="1120.40" width="50.5" height="218.40" fill="#A3A3A3"/>
<path d="M580.10 1091.00V1149.00M574.50 1091.00h11.2M574.50 1149.00h11.2" stroke="#000" stroke-width="2.3" fill="none"/>
<rect x="636.25" y="1136.10" width="50.5" height="202.70" fill="#A3A3A3"/>
<path d="M661.50 1108.40V1161.60M655.90 1108.40h11.2M655.90 1161.60h11.2" stroke="#000" stroke-width="2.3" fill="none"/>
<rect x="717.65" y="1068.70" width="50.5" height="270.10" fill="#A3A3A3"/>
<path d="M742.90 1017.10V1117.50M737.30 1017.10h11.2M737.30 1117.50h11.2" stroke="#000" stroke-width="2.3" fill="none"/>
<text x="108" y="1346.80" font-size="21.5" text-anchor="middle">0</text>
<text x="108" y="1299.70" font-size="21.5" text-anchor="middle">2</text>
<text x="108" y="1250.90" font-size="21.5" text-anchor="middle">4</text>
<text x="108" y="1202.60" font-size="21.5" text-anchor="middle">6</text>
<text x="108" y="1155.60" font-size="21.5" text-anchor="middle">8</text>
<text x="108" y="1106.70" font-size="21.5" text-anchor="middle">10</text>
<text x="108" y="1057.90" font-size="21.5" text-anchor="middle">12</text>
<text x="108" y="1010.70" font-size="21.5" text-anchor="middle">14</text>
<text x="108" y="962.00" font-size="21.5" text-anchor="middle">16</text>
<text transform="translate(172.9,1345.9) rotate(90)" font-size="22.7" font-weight="bold">wild type</text>
<text transform="translate(249.1,1347.4) rotate(90)" font-size="22.7" font-weight="bold" font-style="italic">pan1-Mu</text>
<text transform="translate(331.6,1348.9) rotate(90)" font-size="22.7" font-weight="bold" font-style="italic">pan1-ems</text>
<text transform="translate(412.6,1348.9) rotate(90)" font-size="22.7" font-weight="bold" font-style="italic">pan2-O</text>
<text transform="translate(494.1,1349.4) rotate(90)" font-size="22.7" font-weight="bold" font-style="italic">pan2-2</text>
<text transform="translate(590.4,1351.3000000000002) rotate(90)" font-size="22.7" font-weight="bold" font-style="italic">pan1-Mu;</text>
<text transform="translate(563.2,1351.3000000000002) rotate(90)" font-size="22.7" font-weight="bold" font-style="italic">pan2-O</text>
<text transform="translate(671.3,1349.9) rotate(90)" font-size="22.7" font-weight="bold" font-style="italic">pan1-ems;</text>
<text transform="translate(644.5,1349.9) rotate(90)" font-size="22.7" font-weight="bold" font-style="italic">pan2-O</text>
<text transform="translate(751.3,1348.0) rotate(90)" font-size="22.7" font-weight="bold" font-style="italic">pan1-ems;</text>
<text transform="translate(724.2,1348.0) rotate(90)" font-size="22.7" font-weight="bold" font-style="italic">pan2-2</text>
<text transform="translate(46.8,1167.1) rotate(-90)" font-size="24.5" font-weight="bold" text-anchor="middle">% divided GMCs flanked</text>
<text transform="translate(76.2,1168.3) rotate(-90)" font-size="24.5" font-weight="bold" text-anchor="middle">by undivided SMC(s)</text>
<text x="0.5" y="969" font-size="33" font-weight="bold">E</text>
</g>
</svg>
</body></html>
